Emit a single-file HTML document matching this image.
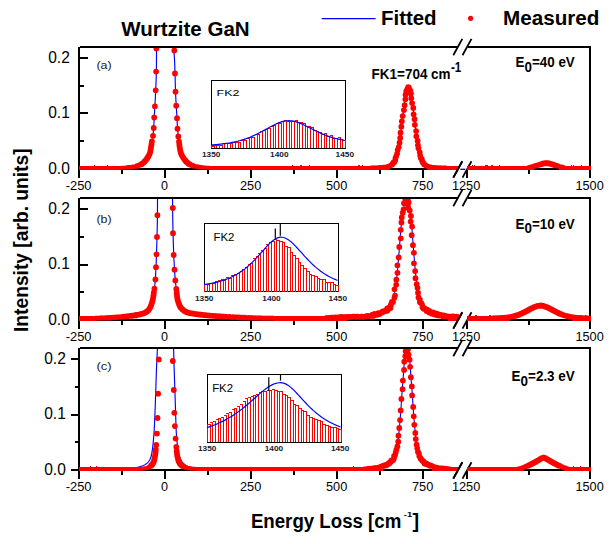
<!DOCTYPE html>
<html><head><meta charset="utf-8"><title>Wurtzite GaN HREELS</title>
<style>html,body{margin:0;padding:0;background:#fff}body{width:615px;height:544px;overflow:hidden;font-family:"Liberation Sans",sans-serif}svg{display:block}</style></head>
<body>
<svg width="615" height="544" viewBox="0 0 615 544" font-family="'Liberation Sans', sans-serif" fill="#000">
<rect x="0" y="0" width="615" height="544" fill="#fff"/>
<text x="121.3" y="35.7" font-size="20" font-weight="bold" text-anchor="start" textLength="128.3" lengthAdjust="spacingAndGlyphs">Wurtzite GaN</text>
<line x1="321.7" y1="18.7" x2="375.6" y2="18.7" stroke="#0000ff" stroke-width="1.3"/>
<text x="381" y="25.4" font-size="20" font-weight="bold" text-anchor="start" textLength="55.6" lengthAdjust="spacingAndGlyphs">Fitted</text>
<circle cx="470.6" cy="18.3" r="2.6" fill="#ff0000"/>
<text x="503" y="25.4" font-size="20" font-weight="bold" text-anchor="start" textLength="96.4" lengthAdjust="spacingAndGlyphs">Measured</text>
<g>
<clipPath id="ca"><rect x="79" y="48" width="512" height="130"/></clipPath>
<rect x="80" y="46" width="378" height="2" fill="#000"/>
<rect x="467.7" y="46" width="123.3" height="2" fill="#000"/>
<rect x="78" y="168" width="380" height="2" fill="#000"/>
<rect x="467" y="168" width="124" height="2" fill="#000"/>
<rect x="78" y="47" width="2" height="131" fill="#000"/>
<rect x="589" y="46" width="2" height="132" fill="#000"/>
<rect x="164" y="170" width="2" height="8" fill="#000"/>
<rect x="250" y="170" width="2" height="8" fill="#000"/>
<rect x="336" y="170" width="2" height="8" fill="#000"/>
<rect x="422" y="170" width="2" height="8" fill="#000"/>
<rect x="466" y="170" width="2" height="8" fill="#000"/>
<rect x="121" y="170" width="2" height="4" fill="#000"/>
<rect x="207" y="170" width="2" height="4" fill="#000"/>
<rect x="293" y="170" width="2" height="4" fill="#000"/>
<rect x="379" y="170" width="2" height="4" fill="#000"/>
<rect x="528" y="170" width="2" height="4" fill="#000"/>
<rect x="80" y="57" width="8" height="2" fill="#000"/>
<rect x="80" y="85" width="4" height="2" fill="#000"/>
<rect x="80" y="112" width="8" height="2" fill="#000"/>
<rect x="80" y="140" width="4" height="2" fill="#000"/>
<text x="69.8" y="62.9" font-size="16" font-weight="normal" text-anchor="end" textLength="21.6" lengthAdjust="spacingAndGlyphs">0.2</text>
<text x="69.8" y="118.4" font-size="16" font-weight="normal" text-anchor="end" textLength="21.6" lengthAdjust="spacingAndGlyphs">0.1</text>
<text x="69.8" y="173.9" font-size="16" font-weight="normal" text-anchor="end" textLength="21.6" lengthAdjust="spacingAndGlyphs">0.0</text>
<text x="78.6" y="189.6" font-size="13" font-weight="normal" text-anchor="middle" textLength="25.8" lengthAdjust="spacingAndGlyphs">-250</text>
<text x="164.6" y="189.6" font-size="13" font-weight="normal" text-anchor="middle" textLength="7" lengthAdjust="spacingAndGlyphs">0</text>
<text x="250.6" y="189.6" font-size="13" font-weight="normal" text-anchor="middle" textLength="21.3" lengthAdjust="spacingAndGlyphs">250</text>
<text x="336.6" y="189.6" font-size="13" font-weight="normal" text-anchor="middle" textLength="21.3" lengthAdjust="spacingAndGlyphs">500</text>
<text x="422.6" y="189.6" font-size="13" font-weight="normal" text-anchor="middle" textLength="21.3" lengthAdjust="spacingAndGlyphs">750</text>
<text x="466.1" y="189.6" font-size="13" font-weight="normal" text-anchor="middle" textLength="28.3" lengthAdjust="spacingAndGlyphs">1250</text>
<text x="589.6" y="189.6" font-size="13" font-weight="normal" text-anchor="middle" textLength="28.3" lengthAdjust="spacingAndGlyphs">1500</text>
<line x1="453.3" y1="55.3" x2="462.3" y2="38.9" stroke="#000" stroke-width="1.8"/>
<line x1="462.5" y1="55.3" x2="471.5" y2="38.9" stroke="#000" stroke-width="1.8"/>
<line x1="453.3" y1="177.6" x2="462.3" y2="161.2" stroke="#000" stroke-width="1.8"/>
<line x1="462.5" y1="177.6" x2="471.5" y2="161.2" stroke="#000" stroke-width="1.8"/>
<g clip-path="url(#ca)">
<polyline fill="none" stroke="#0000ff" stroke-width="1.15" points="156.5,30 156.5,32.6 156.5,37.8 156.5,45.6 156.5,56 156.45,64.97 156.35,72.51 156.2,78.61 156,83.29 155.8,87.79 155.6,92.13 155.4,96.3 155.2,100.3 155.01,104 154.82,107.4 154.64,110.5 154.46,113.3 154.3,116.06 154.15,118.77 154.01,121.44 153.89,124.06 153.75,126.52 153.6,128.81 153.44,130.93 153.26,132.88 153.06,134.68 152.84,136.34 152.59,137.86 152.31,139.24 152.03,140.97 151.73,143.06 151.41,145.5 151.09,148.3 150.6,150.89 149.95,153.26 149.14,155.43 148.16,157.38 147.14,159.14 146.06,160.73 144.94,162.14 143.76,163.36 142.88,164.28 142.29,164.89 142,165.2"/>
<polyline fill="none" stroke="#0000ff" stroke-width="1.15" points="173.6,30 173.6,31.06 173.6,33.19 173.6,36.38 173.6,40.62 173.66,44.62 173.79,48.38 173.97,51.88 174.22,55.12 174.44,58.4 174.61,61.7 174.75,65.03 174.85,68.38 174.96,72.03 175.07,75.99 175.19,80.26 175.31,84.84 175.45,89.14 175.6,93.18 175.76,96.95 175.94,100.45 176.12,103.86 176.31,107.17 176.5,110.39 176.7,113.51 176.88,116.51 177.04,119.39 177.19,122.14 177.31,124.76 177.46,127.22 177.62,129.51 177.8,131.62 178,133.57 178.19,135.36 178.38,136.97 178.56,138.41 178.74,139.69 178.96,141.32 179.22,143.32 179.52,145.69 179.88,148.41 180.38,150.94 181.03,153.28 181.83,155.43 182.77,157.38 183.79,159.14 184.86,160.73 186,162.14 187.2,163.36 188.1,164.28 188.7,164.89 189,165.2"/>
<polyline fill="none" stroke="#0000ff" stroke-width="1.1" points="340,167.67 340.5,167.67 341,167.67 341.5,167.67 342,167.67 342.5,167.66 343,167.66 343.5,167.66 344,167.66 344.5,167.66 345,167.65 345.5,167.65 346,167.65 346.5,167.65 347,167.64 347.5,167.64 348,167.64 348.5,167.64 349,167.63 349.5,167.63 350,167.63 350.5,167.62 351,167.62 351.5,167.62 352,167.62 352.5,167.61 353,167.61 353.5,167.61 354,167.6 354.5,167.6 355,167.59 355.5,167.59 356,167.59 356.5,167.58 357,167.58 357.5,167.57 358,167.57 358.5,167.57 359,167.56 359.5,167.56 360,167.55 360.5,167.55 361,167.54 361.5,167.54 362,167.53 362.5,167.52 363,167.52 363.5,167.51 364,167.51 364.5,167.5 365,167.49 365.5,167.48 366,167.48 366.5,167.47 367,167.46 367.5,167.45 368,167.45 368.5,167.44 369,167.43 369.5,167.42 370,167.41 370.5,167.4 371,167.39 371.5,167.38 372,167.37 372.5,167.35 373,167.34 373.5,167.33 374,167.32 374.5,167.3 375,167.29 375.5,167.27 376,167.26 376.5,167.24 377,167.22 377.5,167.21 378,167.19 378.5,167.17 379,167.15 379.5,167.13 380,167.1 380.5,167.08 381,167.05 381.5,167.03 382,167 382.5,166.97 383,166.93 383.5,166.9 384,166.86 384.5,166.82 385,166.77 385.5,166.72 386,166.66 386.5,166.6 387,166.52 387.5,166.43 388,166.33 388.5,166.21 389,166.06 389.5,165.89 390,165.69 390.5,165.45 391,165.16 391.5,164.81 392,164.39 392.5,163.9 393,163.32 393.5,162.62 394,161.81 394.5,160.87 395,159.77 395.5,158.5 396,157.04 396.5,155.39 397,153.52 397.5,151.43 398,149.1 398.5,146.54 399,143.74 399.5,140.7 400,137.44 400.5,133.98 401,130.33 401.5,126.53 402,122.61 402.5,118.62 403,114.6 403.5,110.62 404,106.73 404.5,103.01 405,99.51 405.5,96.3 406,93.47 406.5,91.06 407,89.15 407.5,87.78 408,87 408.5,86.81 409,87.24 409.5,88.26 410,89.85 410.5,91.97 411,94.55 411.5,97.54 412,100.87 412.5,104.47 413,108.27 413.5,112.21 414,116.21 414.5,120.22 415,124.19 415.5,128.07 416,131.81 416.5,135.39 417,138.77 417.5,141.94 418,144.89 418.5,147.59 419,150.06 419.5,152.29 420,154.29 420.5,156.07 421,157.65 421.5,159.03 422,160.22 422.5,161.26 423,162.15 423.5,162.91 424,163.56 424.5,164.11 425,164.57 425.5,164.96 426,165.28 426.5,165.55 427,165.78 427.5,165.97 428,166.13 428.5,166.26 429,166.37 429.5,166.47 430,166.55 430.5,166.62 431,166.69 431.5,166.74 432,166.79 432.5,166.84 433,166.88 433.5,166.91 434,166.95 434.5,166.98 435,167.01 435.5,167.04 436,167.06 436.5,167.09 437,167.11 437.5,167.13 438,167.16 438.5,167.18 439,167.2 439.5,167.21 440,167.23 440.5,167.25 441,167.26 441.5,167.28 442,167.29 442.5,167.31 443,167.32 443.5,167.34 444,167.35 444.5,167.36 445,167.37 445.5,167.38 446,167.39 446.5,167.4 447,167.41 447.5,167.42 448,167.43 448.5,167.44 449,167.45 449.5,167.46 450,167.47 450.5,167.47 451,167.48 451.5,167.49 452,167.49 452.5,167.5 453,167.51 453.5,167.51 454,167.52 454.5,167.53 455,167.53 455.5,167.54 456,167.54 456.5,167.55 457,167.55 457.5,167.56"/>
<g shape-rendering="crispEdges">
<rect x="79.3" y="166" width="40.7" height="4" fill="#ff0000"/>
<rect x="210.8" y="166" width="179.5" height="4" fill="#ff0000"/>
<rect x="426.8" y="166" width="31.4" height="4" fill="#ff0000"/>
<rect x="466.8" y="166" width="66.75" height="4" fill="#ff0000"/>
<rect x="559.3" y="166" width="31.3" height="4" fill="#ff0000"/>
</g>
<path stroke="#ff0000" stroke-width="1" shape-rendering="crispEdges" d="M94 165.5h1M571 165.5h1M300 165.5h2M362 165.5h1M491 165.5h2M499 165.5h1M573 165.5h1M358 165.5h2M485 165.5h2M309 165.5h1M472 165.5h1M107 165.5h1M581 165.5h1M487 165.5h1M292 165.5h1M474 165.5h1"/>
<path fill="#ff0000" d="M151.5 144m-2.9 0a2.9 2.9 0 1 0 5.8 0a2.9 2.9 0 1 0 -5.8 0M151.37 144.89m-2.9 0a2.9 2.9 0 1 0 5.8 0a2.9 2.9 0 1 0 -5.8 0M151.23 145.78m-2.9 0a2.9 2.9 0 1 0 5.8 0a2.9 2.9 0 1 0 -5.8 0M151.1 146.67m-2.9 0a2.9 2.9 0 1 0 5.8 0a2.9 2.9 0 1 0 -5.8 0M150.96 147.56m-2.9 0a2.9 2.9 0 1 0 5.8 0a2.9 2.9 0 1 0 -5.8 0M150.83 148.45m-2.9 0a2.9 2.9 0 1 0 5.8 0a2.9 2.9 0 1 0 -5.8 0M150.69 149.34m-2.9 0a2.9 2.9 0 1 0 5.8 0a2.9 2.9 0 1 0 -5.8 0M150.55 150.23m-2.9 0a2.9 2.9 0 1 0 5.8 0a2.9 2.9 0 1 0 -5.8 0M150.4 151.11m-2.9 0a2.9 2.9 0 1 0 5.8 0a2.9 2.9 0 1 0 -5.8 0M150.19 151.99m-2.9 0a2.9 2.9 0 1 0 5.8 0a2.9 2.9 0 1 0 -5.8 0M149.94 152.85m-2.9 0a2.9 2.9 0 1 0 5.8 0a2.9 2.9 0 1 0 -5.8 0M149.64 153.7m-2.9 0a2.9 2.9 0 1 0 5.8 0a2.9 2.9 0 1 0 -5.8 0M149.29 154.53m-2.9 0a2.9 2.9 0 1 0 5.8 0a2.9 2.9 0 1 0 -5.8 0M148.9 155.34m-2.9 0a2.9 2.9 0 1 0 5.8 0a2.9 2.9 0 1 0 -5.8 0M148.49 156.14m-2.9 0a2.9 2.9 0 1 0 5.8 0a2.9 2.9 0 1 0 -5.8 0M148.05 156.93m-2.9 0a2.9 2.9 0 1 0 5.8 0a2.9 2.9 0 1 0 -5.8 0M147.57 157.69m-2.9 0a2.9 2.9 0 1 0 5.8 0a2.9 2.9 0 1 0 -5.8 0M147.07 158.44m-2.9 0a2.9 2.9 0 1 0 5.8 0a2.9 2.9 0 1 0 -5.8 0M146.55 159.18m-2.9 0a2.9 2.9 0 1 0 5.8 0a2.9 2.9 0 1 0 -5.8 0M146.01 159.9m-2.9 0a2.9 2.9 0 1 0 5.8 0a2.9 2.9 0 1 0 -5.8 0M145.45 160.6m-2.9 0a2.9 2.9 0 1 0 5.8 0a2.9 2.9 0 1 0 -5.8 0M144.86 161.27m-2.9 0a2.9 2.9 0 1 0 5.8 0a2.9 2.9 0 1 0 -5.8 0M144.24 161.92m-2.9 0a2.9 2.9 0 1 0 5.8 0a2.9 2.9 0 1 0 -5.8 0M143.58 162.54m-2.9 0a2.9 2.9 0 1 0 5.8 0a2.9 2.9 0 1 0 -5.8 0M142.88 163.11m-2.9 0a2.9 2.9 0 1 0 5.8 0a2.9 2.9 0 1 0 -5.8 0M142.15 163.64m-2.9 0a2.9 2.9 0 1 0 5.8 0a2.9 2.9 0 1 0 -5.8 0M141.4 164.13m-2.9 0a2.9 2.9 0 1 0 5.8 0a2.9 2.9 0 1 0 -5.8 0M140.61 164.56m-2.9 0a2.9 2.9 0 1 0 5.8 0a2.9 2.9 0 1 0 -5.8 0M139.8 164.95m-2.79 0a2.79 2.79 0 1 0 5.59 0a2.79 2.79 0 1 0 -5.59 0M138.97 165.31m-2.69 0a2.69 2.69 0 1 0 5.38 0a2.69 2.69 0 1 0 -5.38 0M138.13 165.62m-2.59 0a2.59 2.59 0 1 0 5.19 0a2.59 2.59 0 1 0 -5.19 0M137.28 165.91m-2.51 0a2.51 2.51 0 1 0 5.02 0a2.51 2.51 0 1 0 -5.02 0M136.41 166.14m-2.44 0a2.44 2.44 0 1 0 4.87 0a2.44 2.44 0 1 0 -4.87 0M135.53 166.35m-2.37 0a2.37 2.37 0 1 0 4.75 0a2.37 2.37 0 1 0 -4.75 0M134.65 166.54m-2.32 0a2.32 2.32 0 1 0 4.64 0a2.32 2.32 0 1 0 -4.64 0M133.77 166.69m-2.27 0a2.27 2.27 0 1 0 4.55 0a2.27 2.27 0 1 0 -4.55 0M132.88 166.84m-2.23 0a2.23 2.23 0 1 0 4.46 0a2.23 2.23 0 1 0 -4.46 0M131.99 166.95m-2.19 0a2.19 2.19 0 1 0 4.39 0a2.19 2.19 0 1 0 -4.39 0M131.09 167.07m-2.16 0a2.16 2.16 0 1 0 4.32 0a2.16 2.16 0 1 0 -4.32 0M130.2 167.16m-2.13 0a2.13 2.13 0 1 0 4.26 0a2.13 2.13 0 1 0 -4.26 0M129.3 167.26m-2.1 0a2.1 2.1 0 1 0 4.2 0a2.1 2.1 0 1 0 -4.2 0M128.41 167.34m-2.08 0a2.08 2.08 0 1 0 4.15 0a2.08 2.08 0 1 0 -4.15 0M127.51 167.42m-2.05 0a2.05 2.05 0 1 0 4.11 0a2.05 2.05 0 1 0 -4.11 0M126.61 167.5m-2.03 0a2.03 2.03 0 1 0 4.06 0a2.03 2.03 0 1 0 -4.06 0M125.72 167.57m-2.01 0a2.01 2.01 0 1 0 4.02 0a2.01 2.01 0 1 0 -4.02 0M124.82 167.63m-2 0a2 2 0 1 0 4 0a2 2 0 1 0 -4 0M123.92 167.69m-2 0a2 2 0 1 0 4 0a2 2 0 1 0 -4 0M123.02 167.75m-2 0a2 2 0 1 0 4 0a2 2 0 1 0 -4 0M122.12 167.8m-2 0a2 2 0 1 0 4 0a2 2 0 1 0 -4 0M121.23 167.86m-2 0a2 2 0 1 0 4 0a2 2 0 1 0 -4 0M120.33 167.92m-2 0a2 2 0 1 0 4 0a2 2 0 1 0 -4 0M119.43 167.97m-2 0a2 2 0 1 0 4 0a2 2 0 1 0 -4 0"/>
<path fill="#ff0000" d="M179.3 144.5m-2.9 0a2.9 2.9 0 1 0 5.8 0a2.9 2.9 0 1 0 -5.8 0M179.43 145.39m-2.9 0a2.9 2.9 0 1 0 5.8 0a2.9 2.9 0 1 0 -5.8 0M179.57 146.28m-2.9 0a2.9 2.9 0 1 0 5.8 0a2.9 2.9 0 1 0 -5.8 0M179.7 147.17m-2.9 0a2.9 2.9 0 1 0 5.8 0a2.9 2.9 0 1 0 -5.8 0M179.84 148.06m-2.9 0a2.9 2.9 0 1 0 5.8 0a2.9 2.9 0 1 0 -5.8 0M179.99 148.95m-2.9 0a2.9 2.9 0 1 0 5.8 0a2.9 2.9 0 1 0 -5.8 0M180.13 149.83m-2.9 0a2.9 2.9 0 1 0 5.8 0a2.9 2.9 0 1 0 -5.8 0M180.29 150.72m-2.9 0a2.9 2.9 0 1 0 5.8 0a2.9 2.9 0 1 0 -5.8 0M180.48 151.6m-2.9 0a2.9 2.9 0 1 0 5.8 0a2.9 2.9 0 1 0 -5.8 0M180.73 152.47m-2.9 0a2.9 2.9 0 1 0 5.8 0a2.9 2.9 0 1 0 -5.8 0M181.02 153.32m-2.9 0a2.9 2.9 0 1 0 5.8 0a2.9 2.9 0 1 0 -5.8 0M181.34 154.16m-2.9 0a2.9 2.9 0 1 0 5.8 0a2.9 2.9 0 1 0 -5.8 0M181.71 154.98m-2.9 0a2.9 2.9 0 1 0 5.8 0a2.9 2.9 0 1 0 -5.8 0M182.12 155.78m-2.9 0a2.9 2.9 0 1 0 5.8 0a2.9 2.9 0 1 0 -5.8 0M182.55 156.57m-2.9 0a2.9 2.9 0 1 0 5.8 0a2.9 2.9 0 1 0 -5.8 0M183.01 157.34m-2.9 0a2.9 2.9 0 1 0 5.8 0a2.9 2.9 0 1 0 -5.8 0M183.5 158.1m-2.9 0a2.9 2.9 0 1 0 5.8 0a2.9 2.9 0 1 0 -5.8 0M184 158.84m-2.9 0a2.9 2.9 0 1 0 5.8 0a2.9 2.9 0 1 0 -5.8 0M184.54 159.57m-2.9 0a2.9 2.9 0 1 0 5.8 0a2.9 2.9 0 1 0 -5.8 0M185.09 160.28m-2.9 0a2.9 2.9 0 1 0 5.8 0a2.9 2.9 0 1 0 -5.8 0M185.67 160.97m-2.9 0a2.9 2.9 0 1 0 5.8 0a2.9 2.9 0 1 0 -5.8 0M186.28 161.63m-2.9 0a2.9 2.9 0 1 0 5.8 0a2.9 2.9 0 1 0 -5.8 0M186.92 162.26m-2.9 0a2.9 2.9 0 1 0 5.8 0a2.9 2.9 0 1 0 -5.8 0M187.6 162.85m-2.9 0a2.9 2.9 0 1 0 5.8 0a2.9 2.9 0 1 0 -5.8 0M188.31 163.4m-2.9 0a2.9 2.9 0 1 0 5.8 0a2.9 2.9 0 1 0 -5.8 0M189.05 163.91m-2.9 0a2.9 2.9 0 1 0 5.8 0a2.9 2.9 0 1 0 -5.8 0M189.83 164.37m-2.9 0a2.9 2.9 0 1 0 5.8 0a2.9 2.9 0 1 0 -5.8 0M190.62 164.78m-2.84 0a2.84 2.84 0 1 0 5.69 0a2.84 2.84 0 1 0 -5.69 0M191.44 165.16m-2.73 0a2.73 2.73 0 1 0 5.47 0a2.73 2.73 0 1 0 -5.47 0M192.28 165.48m-2.64 0a2.64 2.64 0 1 0 5.27 0a2.64 2.64 0 1 0 -5.27 0M193.13 165.78m-2.55 0a2.55 2.55 0 1 0 5.09 0a2.55 2.55 0 1 0 -5.09 0M193.99 166.04m-2.47 0a2.47 2.47 0 1 0 4.94 0a2.47 2.47 0 1 0 -4.94 0M194.86 166.27m-2.4 0a2.4 2.4 0 1 0 4.8 0a2.4 2.4 0 1 0 -4.8 0M195.74 166.45m-2.34 0a2.34 2.34 0 1 0 4.69 0a2.34 2.34 0 1 0 -4.69 0M196.63 166.62m-2.29 0a2.29 2.29 0 1 0 4.59 0a2.29 2.29 0 1 0 -4.59 0M197.52 166.77m-2.25 0a2.25 2.25 0 1 0 4.5 0a2.25 2.25 0 1 0 -4.5 0M198.41 166.9m-2.21 0a2.21 2.21 0 1 0 4.42 0a2.21 2.21 0 1 0 -4.42 0M199.3 167.01m-2.18 0a2.18 2.18 0 1 0 4.35 0a2.18 2.18 0 1 0 -4.35 0M200.19 167.12m-2.14 0a2.14 2.14 0 1 0 4.29 0a2.14 2.14 0 1 0 -4.29 0M201.09 167.22m-2.12 0a2.12 2.12 0 1 0 4.23 0a2.12 2.12 0 1 0 -4.23 0M201.98 167.31m-2.09 0a2.09 2.09 0 1 0 4.18 0a2.09 2.09 0 1 0 -4.18 0M202.88 167.39m-2.06 0a2.06 2.06 0 1 0 4.13 0a2.06 2.06 0 1 0 -4.13 0M203.78 167.47m-2.04 0a2.04 2.04 0 1 0 4.08 0a2.04 2.04 0 1 0 -4.08 0M204.67 167.53m-2.02 0a2.02 2.02 0 1 0 4.04 0a2.02 2.02 0 1 0 -4.04 0M205.57 167.6m-2 0a2 2 0 1 0 4 0a2 2 0 1 0 -4 0M206.47 167.66m-2 0a2 2 0 1 0 4 0a2 2 0 1 0 -4 0M207.37 167.72m-2 0a2 2 0 1 0 4 0a2 2 0 1 0 -4 0M208.27 167.78m-2 0a2 2 0 1 0 4 0a2 2 0 1 0 -4 0M209.16 167.83m-2 0a2 2 0 1 0 4 0a2 2 0 1 0 -4 0M210.06 167.89m-2 0a2 2 0 1 0 4 0a2 2 0 1 0 -4 0M210.96 167.95m-2 0a2 2 0 1 0 4 0a2 2 0 1 0 -4 0"/>
<path fill="#ff0000" d="M156.4 48.4m-2.9 0a2.9 2.9 0 1 0 5.8 0a2.9 2.9 0 1 0 -5.8 0M156.1 71.6m-2.9 0a2.9 2.9 0 1 0 5.8 0a2.9 2.9 0 1 0 -5.8 0M155.7 90.3m-2.9 0a2.9 2.9 0 1 0 5.8 0a2.9 2.9 0 1 0 -5.8 0M154.9 106.3m-2.9 0a2.9 2.9 0 1 0 5.8 0a2.9 2.9 0 1 0 -5.8 0M154.2 117.5m-2.9 0a2.9 2.9 0 1 0 5.8 0a2.9 2.9 0 1 0 -5.8 0M153.7 128m-2.9 0a2.9 2.9 0 1 0 5.8 0a2.9 2.9 0 1 0 -5.8 0M153 135.8m-2.9 0a2.9 2.9 0 1 0 5.8 0a2.9 2.9 0 1 0 -5.8 0M151.9 141.3m-2.9 0a2.9 2.9 0 1 0 5.8 0a2.9 2.9 0 1 0 -5.8 0M174.3 50.5m-2.9 0a2.9 2.9 0 1 0 5.8 0a2.9 2.9 0 1 0 -5.8 0M175 73.4m-2.9 0a2.9 2.9 0 1 0 5.8 0a2.9 2.9 0 1 0 -5.8 0M175.5 91.7m-2.9 0a2.9 2.9 0 1 0 5.8 0a2.9 2.9 0 1 0 -5.8 0M176.2 105.7m-2.9 0a2.9 2.9 0 1 0 5.8 0a2.9 2.9 0 1 0 -5.8 0M177 118.2m-2.9 0a2.9 2.9 0 1 0 5.8 0a2.9 2.9 0 1 0 -5.8 0M177.5 128.7m-2.9 0a2.9 2.9 0 1 0 5.8 0a2.9 2.9 0 1 0 -5.8 0M178.3 136.5m-2.9 0a2.9 2.9 0 1 0 5.8 0a2.9 2.9 0 1 0 -5.8 0M179 141.6m-2.9 0a2.9 2.9 0 1 0 5.8 0a2.9 2.9 0 1 0 -5.8 0"/>
<path fill="#ff0000" d="M370.48 167.63m-2 0a2 2 0 1 0 4 0a2 2 0 1 0 -4 0M371.18 167.58m-2 0a2 2 0 1 0 4.01 0a2 2 0 1 0 -4.01 0M371.9 167.6m-2.01 0a2.01 2.01 0 1 0 4.02 0a2.01 2.01 0 1 0 -4.02 0M372.65 167.52m-2.01 0a2.01 2.01 0 1 0 4.03 0a2.01 2.01 0 1 0 -4.03 0M373.33 167.51m-2.02 0a2.02 2.02 0 1 0 4.04 0a2.02 2.02 0 1 0 -4.04 0M374.05 167.51m-2.03 0a2.03 2.03 0 1 0 4.05 0a2.03 2.03 0 1 0 -4.05 0M374.8 167.47m-2.03 0a2.03 2.03 0 1 0 4.06 0a2.03 2.03 0 1 0 -4.06 0M375.48 167.46m-2.04 0a2.04 2.04 0 1 0 4.08 0a2.04 2.04 0 1 0 -4.08 0M376.22 167.46m-2.04 0a2.04 2.04 0 1 0 4.09 0a2.04 2.04 0 1 0 -4.09 0M376.98 167.45m-2.05 0a2.05 2.05 0 1 0 4.1 0a2.05 2.05 0 1 0 -4.1 0M377.67 167.41m-2.06 0a2.06 2.06 0 1 0 4.12 0a2.06 2.06 0 1 0 -4.12 0M378.4 167.32m-2.07 0a2.07 2.07 0 1 0 4.14 0a2.07 2.07 0 1 0 -4.14 0M379.14 167.38m-2.08 0a2.08 2.08 0 1 0 4.15 0a2.08 2.08 0 1 0 -4.15 0M379.86 167.35m-2.09 0a2.09 2.09 0 1 0 4.17 0a2.09 2.09 0 1 0 -4.17 0M380.54 167.26m-2.1 0a2.1 2.1 0 1 0 4.19 0a2.1 2.1 0 1 0 -4.19 0M381.23 167.26m-2.11 0a2.11 2.11 0 1 0 4.22 0a2.11 2.11 0 1 0 -4.22 0M381.95 167.13m-2.12 0a2.12 2.12 0 1 0 4.24 0a2.12 2.12 0 1 0 -4.24 0M382.68 167.1m-2.13 0a2.13 2.13 0 1 0 4.27 0a2.13 2.13 0 1 0 -4.27 0M383.41 167.02m-2.15 0a2.15 2.15 0 1 0 4.3 0a2.15 2.15 0 1 0 -4.3 0M384.09 166.98m-2.17 0a2.17 2.17 0 1 0 4.33 0a2.17 2.17 0 1 0 -4.33 0M384.82 166.96m-2.18 0a2.18 2.18 0 1 0 4.37 0a2.18 2.18 0 1 0 -4.37 0M385.53 166.99m-2.21 0a2.21 2.21 0 1 0 4.41 0a2.21 2.21 0 1 0 -4.41 0M386.33 166.74m-2.23 0a2.23 2.23 0 1 0 4.47 0a2.23 2.23 0 1 0 -4.47 0M386.99 166.68m-2.27 0a2.27 2.27 0 1 0 4.53 0a2.27 2.27 0 1 0 -4.53 0M387.73 166.48m-2.31 0a2.31 2.31 0 1 0 4.61 0a2.31 2.31 0 1 0 -4.61 0M388.53 166.57m-2.36 0a2.36 2.36 0 1 0 4.71 0a2.36 2.36 0 1 0 -4.71 0M389.18 166.2m-2.42 0a2.42 2.42 0 1 0 4.84 0a2.42 2.42 0 1 0 -4.84 0M389.81 165.77m-2.5 0a2.5 2.5 0 1 0 5 0a2.5 2.5 0 1 0 -5 0M390.59 165.46m-2.61 0a2.61 2.61 0 1 0 5.21 0a2.61 2.61 0 1 0 -5.21 0M391.46 164.93m-2.74 0a2.74 2.74 0 1 0 5.49 0a2.74 2.74 0 1 0 -5.49 0M391.88 164.84m-2.9 0a2.9 2.9 0 1 0 5.8 0a2.9 2.9 0 1 0 -5.8 0M392.8 163.47m-2.9 0a2.9 2.9 0 1 0 5.8 0a2.9 2.9 0 1 0 -5.8 0M393.54 162.32m-2.9 0a2.9 2.9 0 1 0 5.8 0a2.9 2.9 0 1 0 -5.8 0M394.25 162.17m-2.9 0a2.9 2.9 0 1 0 5.8 0a2.9 2.9 0 1 0 -5.8 0M395.2 160.32m-2.9 0a2.9 2.9 0 1 0 5.8 0a2.9 2.9 0 1 0 -5.8 0M395.5 158.06m-2.9 0a2.9 2.9 0 1 0 5.8 0a2.9 2.9 0 1 0 -5.8 0M396.16 156.3m-2.9 0a2.9 2.9 0 1 0 5.8 0a2.9 2.9 0 1 0 -5.8 0M397.13 153.62m-2.9 0a2.9 2.9 0 1 0 5.8 0a2.9 2.9 0 1 0 -5.8 0M397.71 149.79m-2.9 0a2.9 2.9 0 1 0 5.8 0a2.9 2.9 0 1 0 -5.8 0M398.77 147.05m-2.9 0a2.9 2.9 0 1 0 5.8 0a2.9 2.9 0 1 0 -5.8 0M399.52 142.7m-2.9 0a2.9 2.9 0 1 0 5.8 0a2.9 2.9 0 1 0 -5.8 0M400.21 138m-2.9 0a2.9 2.9 0 1 0 5.8 0a2.9 2.9 0 1 0 -5.8 0M400.52 132.69m-2.9 0a2.9 2.9 0 1 0 5.8 0a2.9 2.9 0 1 0 -5.8 0M401.33 126.7m-2.9 0a2.9 2.9 0 1 0 5.8 0a2.9 2.9 0 1 0 -5.8 0M401.82 121.35m-2.9 0a2.9 2.9 0 1 0 5.8 0a2.9 2.9 0 1 0 -5.8 0M402.7 116.08m-2.9 0a2.9 2.9 0 1 0 5.8 0a2.9 2.9 0 1 0 -5.8 0M403.91 110.05m-2.9 0a2.9 2.9 0 1 0 5.8 0a2.9 2.9 0 1 0 -5.8 0M404.62 105.19m-2.9 0a2.9 2.9 0 1 0 5.8 0a2.9 2.9 0 1 0 -5.8 0M405.35 99.34m-2.9 0a2.9 2.9 0 1 0 5.8 0a2.9 2.9 0 1 0 -5.8 0M405.55 94.71m-2.9 0a2.9 2.9 0 1 0 5.8 0a2.9 2.9 0 1 0 -5.8 0M406.26 91.04m-2.9 0a2.9 2.9 0 1 0 5.8 0a2.9 2.9 0 1 0 -5.8 0M407.28 89.24m-2.9 0a2.9 2.9 0 1 0 5.8 0a2.9 2.9 0 1 0 -5.8 0M408.15 87.27m-2.9 0a2.9 2.9 0 1 0 5.8 0a2.9 2.9 0 1 0 -5.8 0M408.74 87.42m-2.9 0a2.9 2.9 0 1 0 5.8 0a2.9 2.9 0 1 0 -5.8 0M409.06 88.29m-2.9 0a2.9 2.9 0 1 0 5.8 0a2.9 2.9 0 1 0 -5.8 0M410.36 90.66m-2.9 0a2.9 2.9 0 1 0 5.8 0a2.9 2.9 0 1 0 -5.8 0M410.97 93.59m-2.9 0a2.9 2.9 0 1 0 5.8 0a2.9 2.9 0 1 0 -5.8 0M411.28 98.15m-2.9 0a2.9 2.9 0 1 0 5.8 0a2.9 2.9 0 1 0 -5.8 0M412.11 103.06m-2.9 0a2.9 2.9 0 1 0 5.8 0a2.9 2.9 0 1 0 -5.8 0M413.28 107.96m-2.9 0a2.9 2.9 0 1 0 5.8 0a2.9 2.9 0 1 0 -5.8 0M413.6 114.3m-2.9 0a2.9 2.9 0 1 0 5.8 0a2.9 2.9 0 1 0 -5.8 0M414.55 119.14m-2.9 0a2.9 2.9 0 1 0 5.8 0a2.9 2.9 0 1 0 -5.8 0M414.85 124.83m-2.9 0a2.9 2.9 0 1 0 5.8 0a2.9 2.9 0 1 0 -5.8 0M416.11 131.12m-2.9 0a2.9 2.9 0 1 0 5.8 0a2.9 2.9 0 1 0 -5.8 0M416.3 136.33m-2.9 0a2.9 2.9 0 1 0 5.8 0a2.9 2.9 0 1 0 -5.8 0M417.61 140.9m-2.9 0a2.9 2.9 0 1 0 5.8 0a2.9 2.9 0 1 0 -5.8 0M417.89 145.09m-2.9 0a2.9 2.9 0 1 0 5.8 0a2.9 2.9 0 1 0 -5.8 0M418.45 148.28m-2.9 0a2.9 2.9 0 1 0 5.8 0a2.9 2.9 0 1 0 -5.8 0M419.76 152.37m-2.9 0a2.9 2.9 0 1 0 5.8 0a2.9 2.9 0 1 0 -5.8 0M420.17 155.57m-2.9 0a2.9 2.9 0 1 0 5.8 0a2.9 2.9 0 1 0 -5.8 0M420.82 157.9m-2.9 0a2.9 2.9 0 1 0 5.8 0a2.9 2.9 0 1 0 -5.8 0M421.82 159.11m-2.9 0a2.9 2.9 0 1 0 5.8 0a2.9 2.9 0 1 0 -5.8 0M422.14 160.84m-2.9 0a2.9 2.9 0 1 0 5.8 0a2.9 2.9 0 1 0 -5.8 0M422.86 162.5m-2.9 0a2.9 2.9 0 1 0 5.8 0a2.9 2.9 0 1 0 -5.8 0M423.62 163.38m-2.9 0a2.9 2.9 0 1 0 5.8 0a2.9 2.9 0 1 0 -5.8 0M424.31 164.58m-2.9 0a2.9 2.9 0 1 0 5.8 0a2.9 2.9 0 1 0 -5.8 0M425.14 164.9m-2.8 0a2.8 2.8 0 1 0 5.61 0a2.8 2.8 0 1 0 -5.61 0M425.94 165.63m-2.65 0a2.65 2.65 0 1 0 5.3 0a2.65 2.65 0 1 0 -5.3 0M426.61 166m-2.54 0a2.54 2.54 0 1 0 5.07 0a2.54 2.54 0 1 0 -5.07 0M427.35 166.12m-2.45 0a2.45 2.45 0 1 0 4.89 0a2.45 2.45 0 1 0 -4.89 0M428.07 166.19m-2.38 0a2.38 2.38 0 1 0 4.75 0a2.38 2.38 0 1 0 -4.75 0M428.78 166.43m-2.32 0a2.32 2.32 0 1 0 4.64 0a2.32 2.32 0 1 0 -4.64 0M429.43 166.75m-2.28 0a2.28 2.28 0 1 0 4.56 0a2.28 2.28 0 1 0 -4.56 0M430.18 166.78m-2.24 0a2.24 2.24 0 1 0 4.49 0a2.24 2.24 0 1 0 -4.49 0M430.98 166.89m-2.22 0a2.22 2.22 0 1 0 4.43 0a2.22 2.22 0 1 0 -4.43 0M431.65 166.96m-2.19 0a2.19 2.19 0 1 0 4.38 0a2.19 2.19 0 1 0 -4.38 0M432.4 167.08m-2.17 0a2.17 2.17 0 1 0 4.34 0a2.17 2.17 0 1 0 -4.34 0M433.07 167.1m-2.15 0a2.15 2.15 0 1 0 4.31 0a2.15 2.15 0 1 0 -4.31 0M433.8 167.1m-2.14 0a2.14 2.14 0 1 0 4.28 0a2.14 2.14 0 1 0 -4.28 0M434.58 167.18m-2.13 0a2.13 2.13 0 1 0 4.25 0a2.13 2.13 0 1 0 -4.25 0M435.28 167.27m-2.11 0a2.11 2.11 0 1 0 4.22 0a2.11 2.11 0 1 0 -4.22 0M436.03 167.26m-2.1 0a2.1 2.1 0 1 0 4.2 0a2.1 2.1 0 1 0 -4.2 0M436.72 167.3m-2.09 0a2.09 2.09 0 1 0 4.18 0a2.09 2.09 0 1 0 -4.18 0M437.43 167.36m-2.08 0a2.08 2.08 0 1 0 4.16 0a2.08 2.08 0 1 0 -4.16 0M438.15 167.37m-2.07 0a2.07 2.07 0 1 0 4.14 0a2.07 2.07 0 1 0 -4.14 0M438.87 167.44m-2.06 0a2.06 2.06 0 1 0 4.13 0a2.06 2.06 0 1 0 -4.13 0M439.6 167.46m-2.05 0a2.05 2.05 0 1 0 4.11 0a2.05 2.05 0 1 0 -4.11 0M440.34 167.42m-2.05 0a2.05 2.05 0 1 0 4.09 0a2.05 2.05 0 1 0 -4.09 0M441.03 167.51m-2.04 0a2.04 2.04 0 1 0 4.08 0a2.04 2.04 0 1 0 -4.08 0M441.77 167.45m-2.03 0a2.03 2.03 0 1 0 4.07 0a2.03 2.03 0 1 0 -4.07 0M442.45 167.5m-2.03 0a2.03 2.03 0 1 0 4.06 0a2.03 2.03 0 1 0 -4.06 0M443.17 167.5m-2.02 0a2.02 2.02 0 1 0 4.04 0a2.02 2.02 0 1 0 -4.04 0M443.89 167.56m-2.02 0a2.02 2.02 0 1 0 4.03 0a2.02 2.02 0 1 0 -4.03 0M444.64 167.6m-2.01 0a2.01 2.01 0 1 0 4.02 0a2.01 2.01 0 1 0 -4.02 0M445.33 167.6m-2.01 0a2.01 2.01 0 1 0 4.01 0a2.01 2.01 0 1 0 -4.01 0M446.08 167.57m-2 0a2 2 0 1 0 4 0a2 2 0 1 0 -4 0"/>
<path fill="#ff0000" d="M527.48 167.52m-2.02 0a2.02 2.02 0 1 0 4.05 0a2.02 2.02 0 1 0 -4.05 0M528.2 167.41m-2.06 0a2.06 2.06 0 1 0 4.11 0a2.06 2.06 0 1 0 -4.11 0M528.92 167.28m-2.1 0a2.1 2.1 0 1 0 4.19 0a2.1 2.1 0 1 0 -4.19 0M529.64 167.13m-2.14 0a2.14 2.14 0 1 0 4.28 0a2.14 2.14 0 1 0 -4.28 0M530.36 166.99m-2.18 0a2.18 2.18 0 1 0 4.37 0a2.18 2.18 0 1 0 -4.37 0M531.08 166.84m-2.23 0a2.23 2.23 0 1 0 4.45 0a2.23 2.23 0 1 0 -4.45 0M531.8 166.7m-2.27 0a2.27 2.27 0 1 0 4.54 0a2.27 2.27 0 1 0 -4.54 0M532.52 166.54m-2.32 0a2.32 2.32 0 1 0 4.63 0a2.32 2.32 0 1 0 -4.63 0M533.24 166.36m-2.37 0a2.37 2.37 0 1 0 4.75 0a2.37 2.37 0 1 0 -4.75 0M533.96 166.17m-2.43 0a2.43 2.43 0 1 0 4.86 0a2.43 2.43 0 1 0 -4.86 0M534.68 165.98m-2.49 0a2.49 2.49 0 1 0 4.97 0a2.49 2.49 0 1 0 -4.97 0M535.4 165.79m-2.54 0a2.54 2.54 0 1 0 5.08 0a2.54 2.54 0 1 0 -5.08 0M536.12 165.61m-2.6 0a2.6 2.6 0 1 0 5.2 0a2.6 2.6 0 1 0 -5.2 0M536.84 165.42m-2.65 0a2.65 2.65 0 1 0 5.31 0a2.65 2.65 0 1 0 -5.31 0M537.56 165.22m-2.71 0a2.71 2.71 0 1 0 5.43 0a2.71 2.71 0 1 0 -5.43 0M538.28 165.01m-2.78 0a2.78 2.78 0 1 0 5.56 0a2.78 2.78 0 1 0 -5.56 0M539 164.79m-2.84 0a2.84 2.84 0 1 0 5.69 0a2.84 2.84 0 1 0 -5.69 0M539.72 164.57m-2.9 0a2.9 2.9 0 1 0 5.8 0a2.9 2.9 0 1 0 -5.8 0M540.44 164.36m-2.9 0a2.9 2.9 0 1 0 5.8 0a2.9 2.9 0 1 0 -5.8 0M541.16 164.16m-2.9 0a2.9 2.9 0 1 0 5.8 0a2.9 2.9 0 1 0 -5.8 0M541.88 163.95m-2.9 0a2.9 2.9 0 1 0 5.8 0a2.9 2.9 0 1 0 -5.8 0M542.6 163.75m-2.9 0a2.9 2.9 0 1 0 5.8 0a2.9 2.9 0 1 0 -5.8 0M543.32 163.55m-2.9 0a2.9 2.9 0 1 0 5.8 0a2.9 2.9 0 1 0 -5.8 0M544.04 163.46m-2.9 0a2.9 2.9 0 1 0 5.8 0a2.9 2.9 0 1 0 -5.8 0M544.76 163.38m-2.9 0a2.9 2.9 0 1 0 5.8 0a2.9 2.9 0 1 0 -5.8 0M545.48 163.3m-2.9 0a2.9 2.9 0 1 0 5.8 0a2.9 2.9 0 1 0 -5.8 0M546.2 163.21m-2.9 0a2.9 2.9 0 1 0 5.8 0a2.9 2.9 0 1 0 -5.8 0M546.92 163.27m-2.9 0a2.9 2.9 0 1 0 5.8 0a2.9 2.9 0 1 0 -5.8 0M547.64 163.36m-2.9 0a2.9 2.9 0 1 0 5.8 0a2.9 2.9 0 1 0 -5.8 0M548.36 163.44m-2.9 0a2.9 2.9 0 1 0 5.8 0a2.9 2.9 0 1 0 -5.8 0M549.08 163.52m-2.9 0a2.9 2.9 0 1 0 5.8 0a2.9 2.9 0 1 0 -5.8 0M549.8 163.69m-2.9 0a2.9 2.9 0 1 0 5.8 0a2.9 2.9 0 1 0 -5.8 0M550.52 163.9m-2.9 0a2.9 2.9 0 1 0 5.8 0a2.9 2.9 0 1 0 -5.8 0M551.24 164.1m-2.9 0a2.9 2.9 0 1 0 5.8 0a2.9 2.9 0 1 0 -5.8 0M551.96 164.3m-2.9 0a2.9 2.9 0 1 0 5.8 0a2.9 2.9 0 1 0 -5.8 0M552.68 164.51m-2.9 0a2.9 2.9 0 1 0 5.8 0a2.9 2.9 0 1 0 -5.8 0M553.4 164.73m-2.86 0a2.86 2.86 0 1 0 5.72 0a2.86 2.86 0 1 0 -5.72 0M554.12 164.95m-2.8 0a2.8 2.8 0 1 0 5.59 0a2.8 2.8 0 1 0 -5.59 0M554.84 165.16m-2.73 0a2.73 2.73 0 1 0 5.46 0a2.73 2.73 0 1 0 -5.46 0M555.56 165.37m-2.67 0a2.67 2.67 0 1 0 5.34 0a2.67 2.67 0 1 0 -5.34 0M556.28 165.55m-2.61 0a2.61 2.61 0 1 0 5.23 0a2.61 2.61 0 1 0 -5.23 0M557 165.74m-2.56 0a2.56 2.56 0 1 0 5.11 0a2.56 2.56 0 1 0 -5.11 0M557.72 165.93m-2.5 0a2.5 2.5 0 1 0 5 0a2.5 2.5 0 1 0 -5 0M558.44 166.12m-2.45 0a2.45 2.45 0 1 0 4.89 0a2.45 2.45 0 1 0 -4.89 0M559.16 166.3m-2.39 0a2.39 2.39 0 1 0 4.78 0a2.39 2.39 0 1 0 -4.78 0M559.88 166.49m-2.33 0a2.33 2.33 0 1 0 4.67 0a2.33 2.33 0 1 0 -4.67 0M560.6 166.66m-2.28 0a2.28 2.28 0 1 0 4.56 0a2.28 2.28 0 1 0 -4.56 0M561.32 166.8m-2.24 0a2.24 2.24 0 1 0 4.48 0a2.24 2.24 0 1 0 -4.48 0M562.04 166.95m-2.2 0a2.2 2.2 0 1 0 4.39 0a2.2 2.2 0 1 0 -4.39 0M562.76 167.09m-2.15 0a2.15 2.15 0 1 0 4.3 0a2.15 2.15 0 1 0 -4.3 0M563.48 167.24m-2.11 0a2.11 2.11 0 1 0 4.22 0a2.11 2.11 0 1 0 -4.22 0M564.2 167.38m-2.07 0a2.07 2.07 0 1 0 4.13 0a2.07 2.07 0 1 0 -4.13 0M564.92 167.49m-2.03 0a2.03 2.03 0 1 0 4.06 0a2.03 2.03 0 1 0 -4.06 0"/>
</g>
<line x1="453.3" y1="177.6" x2="462.3" y2="161.2" stroke="#000" stroke-width="1.8"/>
<line x1="460.3" y1="169.3" x2="465.2" y2="169.3" stroke="#0000ff" stroke-width="1.3"/>
<text x="96.4" y="69" font-size="10.5" font-weight="normal" text-anchor="start" textLength="15.2" lengthAdjust="spacingAndGlyphs" fill="#222">(a)</text>
</g>
<g>
<clipPath id="cb"><rect x="79" y="199" width="512" height="130"/></clipPath>
<rect x="80" y="197" width="378" height="2" fill="#000"/>
<rect x="467.7" y="197" width="123.3" height="2" fill="#000"/>
<rect x="78" y="319" width="380" height="2" fill="#000"/>
<rect x="467" y="319" width="124" height="2" fill="#000"/>
<rect x="78" y="198" width="2" height="131" fill="#000"/>
<rect x="589" y="197" width="2" height="132" fill="#000"/>
<rect x="164" y="321" width="2" height="8" fill="#000"/>
<rect x="250" y="321" width="2" height="8" fill="#000"/>
<rect x="336" y="321" width="2" height="8" fill="#000"/>
<rect x="422" y="321" width="2" height="8" fill="#000"/>
<rect x="466" y="321" width="2" height="8" fill="#000"/>
<rect x="121" y="321" width="2" height="4" fill="#000"/>
<rect x="207" y="321" width="2" height="4" fill="#000"/>
<rect x="293" y="321" width="2" height="4" fill="#000"/>
<rect x="379" y="321" width="2" height="4" fill="#000"/>
<rect x="528" y="321" width="2" height="4" fill="#000"/>
<rect x="80" y="208" width="8" height="2" fill="#000"/>
<rect x="80" y="236" width="4" height="2" fill="#000"/>
<rect x="80" y="264" width="8" height="2" fill="#000"/>
<rect x="80" y="291" width="4" height="2" fill="#000"/>
<text x="69.8" y="213.9" font-size="16" font-weight="normal" text-anchor="end" textLength="21.6" lengthAdjust="spacingAndGlyphs">0.2</text>
<text x="69.8" y="269.4" font-size="16" font-weight="normal" text-anchor="end" textLength="21.6" lengthAdjust="spacingAndGlyphs">0.1</text>
<text x="69.8" y="324.9" font-size="16" font-weight="normal" text-anchor="end" textLength="21.6" lengthAdjust="spacingAndGlyphs">0.0</text>
<text x="78.6" y="340.6" font-size="13" font-weight="normal" text-anchor="middle" textLength="25.8" lengthAdjust="spacingAndGlyphs">-250</text>
<text x="164.6" y="340.6" font-size="13" font-weight="normal" text-anchor="middle" textLength="7" lengthAdjust="spacingAndGlyphs">0</text>
<text x="250.6" y="340.6" font-size="13" font-weight="normal" text-anchor="middle" textLength="21.3" lengthAdjust="spacingAndGlyphs">250</text>
<text x="336.6" y="340.6" font-size="13" font-weight="normal" text-anchor="middle" textLength="21.3" lengthAdjust="spacingAndGlyphs">500</text>
<text x="422.6" y="340.6" font-size="13" font-weight="normal" text-anchor="middle" textLength="21.3" lengthAdjust="spacingAndGlyphs">750</text>
<text x="466.1" y="340.6" font-size="13" font-weight="normal" text-anchor="middle" textLength="28.3" lengthAdjust="spacingAndGlyphs">1250</text>
<text x="589.6" y="340.6" font-size="13" font-weight="normal" text-anchor="middle" textLength="28.3" lengthAdjust="spacingAndGlyphs">1500</text>
<line x1="453.3" y1="206.3" x2="462.3" y2="189.9" stroke="#000" stroke-width="1.8"/>
<line x1="462.5" y1="206.3" x2="471.5" y2="189.9" stroke="#000" stroke-width="1.8"/>
<line x1="453.3" y1="328.6" x2="462.3" y2="312.2" stroke="#000" stroke-width="1.8"/>
<line x1="462.5" y1="328.6" x2="471.5" y2="312.2" stroke="#000" stroke-width="1.8"/>
<g clip-path="url(#cb)">
<polyline fill="none" stroke="#0000ff" stroke-width="1.15" points="157.5,180 157.5,182.2 157.5,186.6 157.5,193.2 157.5,202 157.47,209.96 157.41,217.09 157.31,223.38 157.19,228.83 157.06,233.99 156.94,238.88 156.81,243.49 156.69,247.81 156.56,251.86 156.44,255.64 156.31,259.14 156.19,262.36 156.06,265.55 155.92,268.7 155.77,271.81 155.62,274.89 155.45,277.77 155.25,280.46 155.03,282.95 154.78,285.25 154.49,287.64 154.18,290.11 153.84,292.68 153.46,295.32 153.04,297.77 152.58,300.01 152.08,302.04 151.53,303.86 150.93,305.51 150.29,306.97 149.61,308.25 148.89,309.35 148.34,310.17 147.98,310.73 147.8,311"/>
<polyline fill="none" stroke="#0000ff" stroke-width="1.15" points="172.4,180 172.41,181.75 172.44,185.25 172.47,190.5 172.53,197.5 172.59,204.32 172.66,210.98 172.75,217.45 172.85,223.75 172.97,229.84 173.11,235.71 173.26,241.38 173.44,246.83 173.62,251.83 173.81,256.39 174,260.51 174.2,264.19 174.4,267.62 174.6,270.81 174.8,273.75 175,276.45 175.21,279.01 175.44,281.42 175.68,283.69 175.93,285.81 176.18,288.05 176.44,290.4 176.71,292.86 176.99,295.44 177.36,297.83 177.82,300.02 178.38,302.04 179.02,303.86 179.79,305.51 180.66,306.97 181.65,308.25 182.75,309.35 183.58,310.17 184.12,310.73 184.4,311"/>
<polyline fill="none" stroke="#0000ff" stroke-width="1.1" points="340,317 340.5,316.98 341,316.96 341.5,316.94 342,316.92 342.5,316.9 343,316.89 343.5,316.88 344,316.86 344.5,316.85 345,316.84 345.5,316.83 346,316.82 346.5,316.81 347,316.8 347.5,316.78 348,316.77 348.5,316.76 349,316.75 349.5,316.74 350,316.73 350.5,316.72 351,316.7 351.5,316.69 352,316.68 352.5,316.67 353,316.66 353.5,316.65 354,316.64 354.5,316.62 355,316.61 355.5,316.6 356,316.59 356.5,316.58 357,316.57 357.5,316.56 358,316.55 358.5,316.53 359,316.52 359.5,316.51 360,316.5 360.5,316.49 361,316.48 361.5,316.47 362,316.45 362.5,316.44 363,316.43 363.5,316.42 364,316.41 364.5,316.38 365,316.31 365.5,316.24 366,316.16 366.5,316.08 367,316.01 367.5,315.94 368,315.86 368.5,315.79 369,315.71 369.5,315.63 370,315.56 370.5,315.49 371,315.41 371.5,315.33 372,315.26 372.5,315.17 373,315.04 373.5,314.9 374,314.77 374.5,314.63 375,314.5 375.5,314.36 376,314.23 376.5,314.09 377,313.96 377.5,313.82 378,313.68 378.5,313.55 379,313.41 379.5,313.28 380,313.14 380.5,313.01 381,312.85 381.5,312.58 382,312.31 382.5,312.04 383,311.77 383.5,311.5 384,311.23 384.5,310.96 385,310.69 385.5,310.42 386,310.15 386.5,309.88 387,309.62 387.5,309.3 388,308.82 388.5,308.34 389,307.86 389.5,307.38 390,306.85 390.5,306.08 391,305.31 391.5,304.46 392,303.25 392.5,302.04 393,300.35 393.5,298.53 394,296.3 394.5,293.8 395,290.85 395.5,287.6 396,283.8 396.5,279.63 397,275.45 397.5,270.97 398,265.3 398.5,258.9 399,252.98 399.5,246.6 400,239.7 400.5,233.3 401,227.8 401.5,223.12 402,219.75 402.5,216.37 403,213.01 403.5,209.65 404,206.68 404.5,203.99 405,201.3 405.5,199.87 406,198.44 406.5,197.59 407,199.01 407.5,200.44 408,202.38 408.5,205.07 409,207.76 409.5,210.99 410,214.35 410.5,217.73 411,221.1 411.5,224.8 412,229.8 412.5,235.8 413,242.5 413.5,249.2 414,255.35 414.5,261.46 415,267.57 415.5,272.94 416,277.13 416.5,281.3 417,285.47 417.5,288.9 418,292.15 418.5,294.8 419,297.3 419.5,299.25 420,301.07 420.5,302.53 421,303.73 421.5,304.85 422,305.62 422.5,306.39 423,307.1 423.5,307.58 424,308.06 424.5,308.54 425,309.02 425.5,309.45 426,309.72 426.5,309.99 427,310.26 427.5,310.53 428,310.8 428.5,311.07 429,311.34 429.5,311.61 430,311.88 430.5,312.15 431,312.42 431.5,312.68 432,312.93 432.5,313.06 433,313.2 433.5,313.33 434,313.47 434.5,313.6 435,313.74 435.5,313.87 436,314.01 436.5,314.14 437,314.28 437.5,314.42 438,314.55 438.5,314.69 439,314.82 439.5,314.96 440,315.09 440.5,315.22 441,315.29 441.5,315.37 442,315.44 442.5,315.52 443,315.59 443.5,315.67 444,315.74 444.5,315.81 445,315.89 445.5,315.97 446,316.04 446.5,316.12 447,316.19 447.5,316.27 448,316.34 448.5,316.4 449,316.41 449.5,316.43 450,316.44 450.5,316.45 451,316.46 451.5,316.47 452,316.48 452.5,316.49 453,316.5 453.5,316.52 454,316.53 454.5,316.54 455,316.55 455.5,316.56 456,316.57 456.5,316.58 457,316.6 457.5,316.61"/>
<polyline fill="none" stroke="#0000ff" stroke-width="1.2" points="532.2,308.57 533.2,308.04 534.2,307.54 535.2,307.06 536.2,306.61 537.2,306.21 538.2,305.86 539.2,305.57 540.2,305.34 541.2,305.19 542.2,305.11 543.2,305.11 544.2,305.19 545.2,305.34 546.2,305.57 547.2,305.86 548.2,306.21 549.2,306.61 550.2,307.06 551.2,307.54 552.2,308.04 553.2,308.57 554.2,309.1 555.2,309.65 556.2,310.19 557.2,310.72 558.2,311.24 559.2,311.75 560.2,312.24 561.2,312.71 562.2,313.15 563.2,313.57 564.2,313.97 565.2,314.34 566.2,314.68 567.2,314.99 568.2,315.27 569.2,315.54 570.2,315.77 571.2,315.99 572.2,316.18 573.2,316.35 574.2,316.5 575.2,316.64 576.2,316.76"/>
<g shape-rendering="crispEdges">
<rect x="79.3" y="316" width="16.7" height="5" fill="#ff0000"/>
<rect x="274" y="316" width="73" height="5" fill="#ff0000"/>
<rect x="448.25" y="316" width="9.95" height="5" fill="#ff0000"/>
<rect x="466.8" y="316" width="43" height="5" fill="#ff0000"/>
<rect x="571.55" y="316" width="19.05" height="5" fill="#ff0000"/>
</g>
<path stroke="#ff0000" stroke-width="1" shape-rendering="crispEdges" d="M585 315.5h1M581 315.5h1M475 315.5h2M489 315.5h2M117 315.5h1M221 315.5h1"/>
<path fill="#ff0000" d="M153.9 292.5m-2.9 0a2.9 2.9 0 1 0 5.8 0a2.9 2.9 0 1 0 -5.8 0M153.77 293.39m-2.9 0a2.9 2.9 0 1 0 5.8 0a2.9 2.9 0 1 0 -5.8 0M153.65 294.28m-2.9 0a2.9 2.9 0 1 0 5.8 0a2.9 2.9 0 1 0 -5.8 0M153.52 295.17m-2.9 0a2.9 2.9 0 1 0 5.8 0a2.9 2.9 0 1 0 -5.8 0M153.39 296.06m-2.9 0a2.9 2.9 0 1 0 5.8 0a2.9 2.9 0 1 0 -5.8 0M153.25 296.95m-2.9 0a2.9 2.9 0 1 0 5.8 0a2.9 2.9 0 1 0 -5.8 0M153.12 297.84m-2.9 0a2.9 2.9 0 1 0 5.8 0a2.9 2.9 0 1 0 -5.8 0M152.96 298.73m-2.9 0a2.9 2.9 0 1 0 5.8 0a2.9 2.9 0 1 0 -5.8 0M152.78 299.61m-2.9 0a2.9 2.9 0 1 0 5.8 0a2.9 2.9 0 1 0 -5.8 0M152.57 300.49m-2.9 0a2.9 2.9 0 1 0 5.8 0a2.9 2.9 0 1 0 -5.8 0M152.34 301.36m-2.9 0a2.9 2.9 0 1 0 5.8 0a2.9 2.9 0 1 0 -5.8 0M152.1 302.22m-2.9 0a2.9 2.9 0 1 0 5.8 0a2.9 2.9 0 1 0 -5.8 0M151.85 303.09m-2.9 0a2.9 2.9 0 1 0 5.8 0a2.9 2.9 0 1 0 -5.8 0M151.58 303.95m-2.9 0a2.9 2.9 0 1 0 5.8 0a2.9 2.9 0 1 0 -5.8 0M151.3 304.8m-2.9 0a2.9 2.9 0 1 0 5.8 0a2.9 2.9 0 1 0 -5.8 0M151 305.65m-2.9 0a2.9 2.9 0 1 0 5.8 0a2.9 2.9 0 1 0 -5.8 0M150.67 306.49m-2.9 0a2.9 2.9 0 1 0 5.8 0a2.9 2.9 0 1 0 -5.8 0M150.3 307.31m-2.9 0a2.9 2.9 0 1 0 5.8 0a2.9 2.9 0 1 0 -5.8 0M149.88 308.1m-2.9 0a2.9 2.9 0 1 0 5.8 0a2.9 2.9 0 1 0 -5.8 0M149.41 308.87m-2.9 0a2.9 2.9 0 1 0 5.8 0a2.9 2.9 0 1 0 -5.8 0M148.9 309.61m-2.9 0a2.9 2.9 0 1 0 5.8 0a2.9 2.9 0 1 0 -5.8 0M148.34 310.31m-2.9 0a2.9 2.9 0 1 0 5.8 0a2.9 2.9 0 1 0 -5.8 0M147.69 310.94m-2.9 0a2.9 2.9 0 1 0 5.8 0a2.9 2.9 0 1 0 -5.8 0M146.99 311.5m-2.9 0a2.9 2.9 0 1 0 5.8 0a2.9 2.9 0 1 0 -5.8 0M146.24 312m-2.9 0a2.9 2.9 0 1 0 5.8 0a2.9 2.9 0 1 0 -5.8 0M145.47 312.46m-2.9 0a2.9 2.9 0 1 0 5.8 0a2.9 2.9 0 1 0 -5.8 0M144.67 312.87m-2.9 0a2.9 2.9 0 1 0 5.8 0a2.9 2.9 0 1 0 -5.8 0M143.84 313.23m-2.9 0a2.9 2.9 0 1 0 5.8 0a2.9 2.9 0 1 0 -5.8 0M142.99 313.53m-2.9 0a2.9 2.9 0 1 0 5.8 0a2.9 2.9 0 1 0 -5.8 0M142.13 313.79m-2.9 0a2.9 2.9 0 1 0 5.8 0a2.9 2.9 0 1 0 -5.8 0M141.26 314.02m-2.9 0a2.9 2.9 0 1 0 5.8 0a2.9 2.9 0 1 0 -5.8 0M140.39 314.24m-2.9 0a2.9 2.9 0 1 0 5.8 0a2.9 2.9 0 1 0 -5.8 0M139.51 314.44m-2.9 0a2.9 2.9 0 1 0 5.8 0a2.9 2.9 0 1 0 -5.8 0M138.63 314.63m-2.9 0a2.9 2.9 0 1 0 5.8 0a2.9 2.9 0 1 0 -5.8 0M137.75 314.81m-2.9 0a2.9 2.9 0 1 0 5.8 0a2.9 2.9 0 1 0 -5.8 0M136.87 314.98m-2.9 0a2.9 2.9 0 1 0 5.8 0a2.9 2.9 0 1 0 -5.8 0M135.98 315.13m-2.9 0a2.9 2.9 0 1 0 5.79 0a2.9 2.9 0 1 0 -5.79 0M135.09 315.28m-2.88 0a2.88 2.88 0 1 0 5.75 0a2.88 2.88 0 1 0 -5.75 0M134.2 315.41m-2.86 0a2.86 2.86 0 1 0 5.72 0a2.86 2.86 0 1 0 -5.72 0M133.31 315.54m-2.84 0a2.84 2.84 0 1 0 5.68 0a2.84 2.84 0 1 0 -5.68 0M132.42 315.65m-2.83 0a2.83 2.83 0 1 0 5.65 0a2.83 2.83 0 1 0 -5.65 0M131.52 315.76m-2.81 0a2.81 2.81 0 1 0 5.62 0a2.81 2.81 0 1 0 -5.62 0M130.63 315.87m-2.8 0a2.8 2.8 0 1 0 5.6 0a2.8 2.8 0 1 0 -5.6 0M129.74 315.98m-2.78 0a2.78 2.78 0 1 0 5.57 0a2.78 2.78 0 1 0 -5.57 0M128.84 316.08m-2.77 0a2.77 2.77 0 1 0 5.54 0a2.77 2.77 0 1 0 -5.54 0M127.95 316.19m-2.75 0a2.75 2.75 0 1 0 5.51 0a2.75 2.75 0 1 0 -5.51 0M127.06 316.29m-2.74 0a2.74 2.74 0 1 0 5.48 0a2.74 2.74 0 1 0 -5.48 0M126.16 316.4m-2.73 0a2.73 2.73 0 1 0 5.45 0a2.73 2.73 0 1 0 -5.45 0M125.27 316.5m-2.71 0a2.71 2.71 0 1 0 5.43 0a2.71 2.71 0 1 0 -5.43 0M124.37 316.6m-2.7 0a2.7 2.7 0 1 0 5.4 0a2.7 2.7 0 1 0 -5.4 0M123.48 316.7m-2.69 0a2.69 2.69 0 1 0 5.37 0a2.69 2.69 0 1 0 -5.37 0M122.58 316.79m-2.67 0a2.67 2.67 0 1 0 5.35 0a2.67 2.67 0 1 0 -5.35 0M121.69 316.88m-2.66 0a2.66 2.66 0 1 0 5.33 0a2.66 2.66 0 1 0 -5.33 0M120.79 316.97m-2.65 0a2.65 2.65 0 1 0 5.3 0a2.65 2.65 0 1 0 -5.3 0M119.9 317.04m-2.64 0a2.64 2.64 0 1 0 5.28 0a2.64 2.64 0 1 0 -5.28 0M119 317.11m-2.63 0a2.63 2.63 0 1 0 5.26 0a2.63 2.63 0 1 0 -5.26 0M118.1 317.18m-2.62 0a2.62 2.62 0 1 0 5.24 0a2.62 2.62 0 1 0 -5.24 0M117.2 317.24m-2.61 0a2.61 2.61 0 1 0 5.23 0a2.61 2.61 0 1 0 -5.23 0M116.31 317.31m-2.61 0a2.61 2.61 0 1 0 5.21 0a2.61 2.61 0 1 0 -5.21 0M115.41 317.37m-2.6 0a2.6 2.6 0 1 0 5.2 0a2.6 2.6 0 1 0 -5.2 0M114.51 317.42m-2.59 0a2.59 2.59 0 1 0 5.18 0a2.59 2.59 0 1 0 -5.18 0M113.61 317.47m-2.58 0a2.58 2.58 0 1 0 5.17 0a2.58 2.58 0 1 0 -5.17 0M112.71 317.53m-2.58 0a2.58 2.58 0 1 0 5.15 0a2.58 2.58 0 1 0 -5.15 0M111.81 317.57m-2.57 0a2.57 2.57 0 1 0 5.14 0a2.57 2.57 0 1 0 -5.14 0M110.91 317.62m-2.56 0a2.56 2.56 0 1 0 5.13 0a2.56 2.56 0 1 0 -5.13 0M110.02 317.67m-2.56 0a2.56 2.56 0 1 0 5.11 0a2.56 2.56 0 1 0 -5.11 0M109.12 317.72m-2.55 0a2.55 2.55 0 1 0 5.1 0a2.55 2.55 0 1 0 -5.1 0M108.22 317.76m-2.55 0a2.55 2.55 0 1 0 5.09 0a2.55 2.55 0 1 0 -5.09 0M107.32 317.8m-2.54 0a2.54 2.54 0 1 0 5.08 0a2.54 2.54 0 1 0 -5.08 0M106.42 317.84m-2.53 0a2.53 2.53 0 1 0 5.07 0a2.53 2.53 0 1 0 -5.07 0M105.52 317.88m-2.53 0a2.53 2.53 0 1 0 5.06 0a2.53 2.53 0 1 0 -5.06 0M104.62 317.92m-2.52 0a2.52 2.52 0 1 0 5.05 0a2.52 2.52 0 1 0 -5.05 0M103.72 317.96m-2.52 0a2.52 2.52 0 1 0 5.04 0a2.52 2.52 0 1 0 -5.04 0M102.82 318m-2.51 0a2.51 2.51 0 1 0 5.03 0a2.51 2.51 0 1 0 -5.03 0M101.92 318.03m-2.51 0a2.51 2.51 0 1 0 5.02 0a2.51 2.51 0 1 0 -5.02 0M101.02 318.07m-2.5 0a2.5 2.5 0 1 0 5.01 0a2.5 2.5 0 1 0 -5.01 0M100.13 318.1m-2.5 0a2.5 2.5 0 1 0 5 0a2.5 2.5 0 1 0 -5 0M99.23 318.14m-2.5 0a2.5 2.5 0 1 0 5 0a2.5 2.5 0 1 0 -5 0M98.33 318.17m-2.5 0a2.5 2.5 0 1 0 5 0a2.5 2.5 0 1 0 -5 0M97.43 318.21m-2.5 0a2.5 2.5 0 1 0 5 0a2.5 2.5 0 1 0 -5 0M96.53 318.24m-2.5 0a2.5 2.5 0 1 0 5 0a2.5 2.5 0 1 0 -5 0M95.63 318.28m-2.5 0a2.5 2.5 0 1 0 5 0a2.5 2.5 0 1 0 -5 0"/>
<path fill="#ff0000" d="M176.7 292.5m-2.9 0a2.9 2.9 0 1 0 5.8 0a2.9 2.9 0 1 0 -5.8 0M176.78 293.4m-2.9 0a2.9 2.9 0 1 0 5.8 0a2.9 2.9 0 1 0 -5.8 0M176.85 294.29m-2.9 0a2.9 2.9 0 1 0 5.8 0a2.9 2.9 0 1 0 -5.8 0M176.93 295.19m-2.9 0a2.9 2.9 0 1 0 5.8 0a2.9 2.9 0 1 0 -5.8 0M177.02 296.09m-2.9 0a2.9 2.9 0 1 0 5.8 0a2.9 2.9 0 1 0 -5.8 0M177.12 296.98m-2.9 0a2.9 2.9 0 1 0 5.8 0a2.9 2.9 0 1 0 -5.8 0M177.23 297.87m-2.9 0a2.9 2.9 0 1 0 5.8 0a2.9 2.9 0 1 0 -5.8 0M177.37 298.76m-2.9 0a2.9 2.9 0 1 0 5.8 0a2.9 2.9 0 1 0 -5.8 0M177.57 299.64m-2.9 0a2.9 2.9 0 1 0 5.8 0a2.9 2.9 0 1 0 -5.8 0M177.8 300.51m-2.9 0a2.9 2.9 0 1 0 5.8 0a2.9 2.9 0 1 0 -5.8 0M178.07 301.37m-2.9 0a2.9 2.9 0 1 0 5.8 0a2.9 2.9 0 1 0 -5.8 0M178.36 302.22m-2.9 0a2.9 2.9 0 1 0 5.8 0a2.9 2.9 0 1 0 -5.8 0M178.65 303.07m-2.9 0a2.9 2.9 0 1 0 5.8 0a2.9 2.9 0 1 0 -5.8 0M178.96 303.92m-2.9 0a2.9 2.9 0 1 0 5.8 0a2.9 2.9 0 1 0 -5.8 0M179.28 304.76m-2.9 0a2.9 2.9 0 1 0 5.8 0a2.9 2.9 0 1 0 -5.8 0M179.63 305.59m-2.9 0a2.9 2.9 0 1 0 5.8 0a2.9 2.9 0 1 0 -5.8 0M180.04 306.39m-2.9 0a2.9 2.9 0 1 0 5.8 0a2.9 2.9 0 1 0 -5.8 0M180.51 307.15m-2.9 0a2.9 2.9 0 1 0 5.8 0a2.9 2.9 0 1 0 -5.8 0M181.06 307.87m-2.9 0a2.9 2.9 0 1 0 5.8 0a2.9 2.9 0 1 0 -5.8 0M181.65 308.54m-2.9 0a2.9 2.9 0 1 0 5.8 0a2.9 2.9 0 1 0 -5.8 0M182.28 309.18m-2.9 0a2.9 2.9 0 1 0 5.8 0a2.9 2.9 0 1 0 -5.8 0M182.95 309.79m-2.9 0a2.9 2.9 0 1 0 5.8 0a2.9 2.9 0 1 0 -5.8 0M183.65 310.36m-2.9 0a2.9 2.9 0 1 0 5.8 0a2.9 2.9 0 1 0 -5.8 0M184.38 310.88m-2.9 0a2.9 2.9 0 1 0 5.8 0a2.9 2.9 0 1 0 -5.8 0M185.14 311.35m-2.9 0a2.9 2.9 0 1 0 5.8 0a2.9 2.9 0 1 0 -5.8 0M185.94 311.77m-2.9 0a2.9 2.9 0 1 0 5.8 0a2.9 2.9 0 1 0 -5.8 0M186.76 312.13m-2.9 0a2.9 2.9 0 1 0 5.8 0a2.9 2.9 0 1 0 -5.8 0M187.61 312.44m-2.9 0a2.9 2.9 0 1 0 5.8 0a2.9 2.9 0 1 0 -5.8 0M188.47 312.71m-2.9 0a2.9 2.9 0 1 0 5.8 0a2.9 2.9 0 1 0 -5.8 0M189.34 312.94m-2.9 0a2.9 2.9 0 1 0 5.8 0a2.9 2.9 0 1 0 -5.8 0M190.22 313.13m-2.9 0a2.9 2.9 0 1 0 5.8 0a2.9 2.9 0 1 0 -5.8 0M191.1 313.3m-2.9 0a2.9 2.9 0 1 0 5.8 0a2.9 2.9 0 1 0 -5.8 0M191.99 313.46m-2.9 0a2.9 2.9 0 1 0 5.8 0a2.9 2.9 0 1 0 -5.8 0M192.87 313.62m-2.9 0a2.9 2.9 0 1 0 5.8 0a2.9 2.9 0 1 0 -5.8 0M193.76 313.77m-2.9 0a2.9 2.9 0 1 0 5.8 0a2.9 2.9 0 1 0 -5.8 0M194.65 313.91m-2.9 0a2.9 2.9 0 1 0 5.8 0a2.9 2.9 0 1 0 -5.8 0M195.54 314.05m-2.9 0a2.9 2.9 0 1 0 5.8 0a2.9 2.9 0 1 0 -5.8 0M196.43 314.18m-2.9 0a2.9 2.9 0 1 0 5.8 0a2.9 2.9 0 1 0 -5.8 0M197.32 314.3m-2.9 0a2.9 2.9 0 1 0 5.8 0a2.9 2.9 0 1 0 -5.8 0M198.21 314.43m-2.9 0a2.9 2.9 0 1 0 5.8 0a2.9 2.9 0 1 0 -5.8 0M199.1 314.54m-2.9 0a2.9 2.9 0 1 0 5.8 0a2.9 2.9 0 1 0 -5.8 0M200 314.65m-2.9 0a2.9 2.9 0 1 0 5.8 0a2.9 2.9 0 1 0 -5.8 0M200.89 314.76m-2.9 0a2.9 2.9 0 1 0 5.8 0a2.9 2.9 0 1 0 -5.8 0M201.79 314.86m-2.9 0a2.9 2.9 0 1 0 5.8 0a2.9 2.9 0 1 0 -5.8 0M202.68 314.96m-2.9 0a2.9 2.9 0 1 0 5.8 0a2.9 2.9 0 1 0 -5.8 0M203.58 315.06m-2.9 0a2.9 2.9 0 1 0 5.8 0a2.9 2.9 0 1 0 -5.8 0M204.47 315.15m-2.89 0a2.89 2.89 0 1 0 5.79 0a2.89 2.89 0 1 0 -5.79 0M205.37 315.24m-2.88 0a2.88 2.88 0 1 0 5.76 0a2.88 2.88 0 1 0 -5.76 0M206.26 315.32m-2.87 0a2.87 2.87 0 1 0 5.74 0a2.87 2.87 0 1 0 -5.74 0M207.16 315.4m-2.86 0a2.86 2.86 0 1 0 5.72 0a2.86 2.86 0 1 0 -5.72 0M208.05 315.49m-2.85 0a2.85 2.85 0 1 0 5.7 0a2.85 2.85 0 1 0 -5.7 0M208.95 315.57m-2.84 0a2.84 2.84 0 1 0 5.68 0a2.84 2.84 0 1 0 -5.68 0M209.85 315.64m-2.83 0a2.83 2.83 0 1 0 5.66 0a2.83 2.83 0 1 0 -5.66 0M210.74 315.71m-2.82 0a2.82 2.82 0 1 0 5.64 0a2.82 2.82 0 1 0 -5.64 0M211.64 315.79m-2.81 0a2.81 2.81 0 1 0 5.62 0a2.81 2.81 0 1 0 -5.62 0M212.54 315.85m-2.8 0a2.8 2.8 0 1 0 5.6 0a2.8 2.8 0 1 0 -5.6 0M213.44 315.92m-2.79 0a2.79 2.79 0 1 0 5.58 0a2.79 2.79 0 1 0 -5.58 0M214.33 315.99m-2.78 0a2.78 2.78 0 1 0 5.56 0a2.78 2.78 0 1 0 -5.56 0M215.23 316.05m-2.77 0a2.77 2.77 0 1 0 5.55 0a2.77 2.77 0 1 0 -5.55 0M216.13 316.11m-2.77 0a2.77 2.77 0 1 0 5.53 0a2.77 2.77 0 1 0 -5.53 0M217.03 316.17m-2.76 0a2.76 2.76 0 1 0 5.52 0a2.76 2.76 0 1 0 -5.52 0M217.93 316.23m-2.75 0a2.75 2.75 0 1 0 5.5 0a2.75 2.75 0 1 0 -5.5 0M218.82 316.28m-2.74 0a2.74 2.74 0 1 0 5.48 0a2.74 2.74 0 1 0 -5.48 0M219.72 316.34m-2.73 0a2.73 2.73 0 1 0 5.47 0a2.73 2.73 0 1 0 -5.47 0M220.62 316.4m-2.73 0a2.73 2.73 0 1 0 5.45 0a2.73 2.73 0 1 0 -5.45 0M221.52 316.46m-2.72 0a2.72 2.72 0 1 0 5.44 0a2.72 2.72 0 1 0 -5.44 0M222.42 316.51m-2.71 0a2.71 2.71 0 1 0 5.42 0a2.71 2.71 0 1 0 -5.42 0M223.32 316.57m-2.7 0a2.7 2.7 0 1 0 5.41 0a2.7 2.7 0 1 0 -5.41 0M224.21 316.62m-2.7 0a2.7 2.7 0 1 0 5.39 0a2.7 2.7 0 1 0 -5.39 0M225.11 316.67m-2.69 0a2.69 2.69 0 1 0 5.38 0a2.69 2.69 0 1 0 -5.38 0M226.01 316.73m-2.68 0a2.68 2.68 0 1 0 5.37 0a2.68 2.68 0 1 0 -5.37 0M226.91 316.78m-2.68 0a2.68 2.68 0 1 0 5.35 0a2.68 2.68 0 1 0 -5.35 0M227.81 316.83m-2.67 0a2.67 2.67 0 1 0 5.34 0a2.67 2.67 0 1 0 -5.34 0M228.71 316.88m-2.66 0a2.66 2.66 0 1 0 5.32 0a2.66 2.66 0 1 0 -5.32 0M229.61 316.93m-2.66 0a2.66 2.66 0 1 0 5.31 0a2.66 2.66 0 1 0 -5.31 0M230.5 316.99m-2.65 0a2.65 2.65 0 1 0 5.3 0a2.65 2.65 0 1 0 -5.3 0M231.4 317.03m-2.64 0a2.64 2.64 0 1 0 5.28 0a2.64 2.64 0 1 0 -5.28 0M232.3 317.08m-2.64 0a2.64 2.64 0 1 0 5.27 0a2.64 2.64 0 1 0 -5.27 0M233.2 317.12m-2.63 0a2.63 2.63 0 1 0 5.26 0a2.63 2.63 0 1 0 -5.26 0M234.1 317.17m-2.62 0a2.62 2.62 0 1 0 5.25 0a2.62 2.62 0 1 0 -5.25 0M235 317.21m-2.62 0a2.62 2.62 0 1 0 5.24 0a2.62 2.62 0 1 0 -5.24 0M235.9 317.25m-2.61 0a2.61 2.61 0 1 0 5.23 0a2.61 2.61 0 1 0 -5.23 0M236.8 317.3m-2.61 0a2.61 2.61 0 1 0 5.21 0a2.61 2.61 0 1 0 -5.21 0M237.7 317.34m-2.6 0a2.6 2.6 0 1 0 5.2 0a2.6 2.6 0 1 0 -5.2 0M238.59 317.38m-2.6 0a2.6 2.6 0 1 0 5.19 0a2.6 2.6 0 1 0 -5.19 0M239.49 317.41m-2.59 0a2.59 2.59 0 1 0 5.18 0a2.59 2.59 0 1 0 -5.18 0M240.39 317.45m-2.59 0a2.59 2.59 0 1 0 5.17 0a2.59 2.59 0 1 0 -5.17 0M241.29 317.49m-2.58 0a2.58 2.58 0 1 0 5.16 0a2.58 2.58 0 1 0 -5.16 0M242.19 317.52m-2.58 0a2.58 2.58 0 1 0 5.15 0a2.58 2.58 0 1 0 -5.15 0M243.09 317.56m-2.57 0a2.57 2.57 0 1 0 5.14 0a2.57 2.57 0 1 0 -5.14 0M243.99 317.59m-2.57 0a2.57 2.57 0 1 0 5.13 0a2.57 2.57 0 1 0 -5.13 0M244.89 317.63m-2.56 0a2.56 2.56 0 1 0 5.13 0a2.56 2.56 0 1 0 -5.13 0M245.79 317.66m-2.56 0a2.56 2.56 0 1 0 5.12 0a2.56 2.56 0 1 0 -5.12 0M246.69 317.69m-2.55 0a2.55 2.55 0 1 0 5.11 0a2.55 2.55 0 1 0 -5.11 0M247.59 317.73m-2.55 0a2.55 2.55 0 1 0 5.1 0a2.55 2.55 0 1 0 -5.1 0M248.49 317.76m-2.55 0a2.55 2.55 0 1 0 5.09 0a2.55 2.55 0 1 0 -5.09 0M249.39 317.79m-2.54 0a2.54 2.54 0 1 0 5.08 0a2.54 2.54 0 1 0 -5.08 0M250.29 317.82m-2.54 0a2.54 2.54 0 1 0 5.08 0a2.54 2.54 0 1 0 -5.08 0M251.19 317.84m-2.53 0a2.53 2.53 0 1 0 5.07 0a2.53 2.53 0 1 0 -5.07 0M252.08 317.87m-2.53 0a2.53 2.53 0 1 0 5.06 0a2.53 2.53 0 1 0 -5.06 0M252.98 317.9m-2.53 0a2.53 2.53 0 1 0 5.05 0a2.53 2.53 0 1 0 -5.05 0M253.88 317.93m-2.52 0a2.52 2.52 0 1 0 5.05 0a2.52 2.52 0 1 0 -5.05 0M254.78 317.95m-2.52 0a2.52 2.52 0 1 0 5.04 0a2.52 2.52 0 1 0 -5.04 0M255.68 317.98m-2.52 0a2.52 2.52 0 1 0 5.03 0a2.52 2.52 0 1 0 -5.03 0M256.58 318m-2.51 0a2.51 2.51 0 1 0 5.03 0a2.51 2.51 0 1 0 -5.03 0M257.48 318.03m-2.51 0a2.51 2.51 0 1 0 5.02 0a2.51 2.51 0 1 0 -5.02 0M258.38 318.05m-2.51 0a2.51 2.51 0 1 0 5.01 0a2.51 2.51 0 1 0 -5.01 0M259.28 318.07m-2.5 0a2.5 2.5 0 1 0 5.01 0a2.5 2.5 0 1 0 -5.01 0M260.18 318.09m-2.5 0a2.5 2.5 0 1 0 5 0a2.5 2.5 0 1 0 -5 0M261.08 318.12m-2.5 0a2.5 2.5 0 1 0 5 0a2.5 2.5 0 1 0 -5 0M261.98 318.14m-2.5 0a2.5 2.5 0 1 0 5 0a2.5 2.5 0 1 0 -5 0M262.88 318.16m-2.5 0a2.5 2.5 0 1 0 5 0a2.5 2.5 0 1 0 -5 0M263.78 318.18m-2.5 0a2.5 2.5 0 1 0 5 0a2.5 2.5 0 1 0 -5 0M264.68 318.19m-2.5 0a2.5 2.5 0 1 0 5 0a2.5 2.5 0 1 0 -5 0M265.58 318.21m-2.5 0a2.5 2.5 0 1 0 5 0a2.5 2.5 0 1 0 -5 0M266.48 318.23m-2.5 0a2.5 2.5 0 1 0 5 0a2.5 2.5 0 1 0 -5 0M267.38 318.25m-2.5 0a2.5 2.5 0 1 0 5 0a2.5 2.5 0 1 0 -5 0M268.28 318.27m-2.5 0a2.5 2.5 0 1 0 5 0a2.5 2.5 0 1 0 -5 0M269.18 318.28m-2.5 0a2.5 2.5 0 1 0 5 0a2.5 2.5 0 1 0 -5 0M270.08 318.3m-2.5 0a2.5 2.5 0 1 0 5 0a2.5 2.5 0 1 0 -5 0M270.98 318.32m-2.5 0a2.5 2.5 0 1 0 5 0a2.5 2.5 0 1 0 -5 0M271.88 318.34m-2.5 0a2.5 2.5 0 1 0 5 0a2.5 2.5 0 1 0 -5 0M272.78 318.36m-2.5 0a2.5 2.5 0 1 0 5 0a2.5 2.5 0 1 0 -5 0M273.68 318.37m-2.5 0a2.5 2.5 0 1 0 5 0a2.5 2.5 0 1 0 -5 0M274.58 318.39m-2.5 0a2.5 2.5 0 1 0 5 0a2.5 2.5 0 1 0 -5 0"/>
<path fill="#ff0000" d="M157.4 215.2m-2.9 0a2.9 2.9 0 1 0 5.8 0a2.9 2.9 0 1 0 -5.8 0M157 237m-2.9 0a2.9 2.9 0 1 0 5.8 0a2.9 2.9 0 1 0 -5.8 0M156.5 254.3m-2.9 0a2.9 2.9 0 1 0 5.8 0a2.9 2.9 0 1 0 -5.8 0M156 267.2m-2.9 0a2.9 2.9 0 1 0 5.8 0a2.9 2.9 0 1 0 -5.8 0M155.4 279.5m-2.9 0a2.9 2.9 0 1 0 5.8 0a2.9 2.9 0 1 0 -5.8 0M154.4 288.7m-2.9 0a2.9 2.9 0 1 0 5.8 0a2.9 2.9 0 1 0 -5.8 0M172.8 208m-2.9 0a2.9 2.9 0 1 0 5.8 0a2.9 2.9 0 1 0 -5.8 0M173 233.2m-2.9 0a2.9 2.9 0 1 0 5.8 0a2.9 2.9 0 1 0 -5.8 0M173.7 255m-2.9 0a2.9 2.9 0 1 0 5.8 0a2.9 2.9 0 1 0 -5.8 0M174.5 269.7m-2.9 0a2.9 2.9 0 1 0 5.8 0a2.9 2.9 0 1 0 -5.8 0M175.3 280.5m-2.9 0a2.9 2.9 0 1 0 5.8 0a2.9 2.9 0 1 0 -5.8 0M176.3 289m-2.9 0a2.9 2.9 0 1 0 5.8 0a2.9 2.9 0 1 0 -5.8 0"/>
<path fill="#ff0000" d="M326.78 317.8m-2.55 0a2.55 2.55 0 1 0 5.09 0a2.55 2.55 0 1 0 -5.09 0M327.52 317.7m-2.55 0a2.55 2.55 0 1 0 5.1 0a2.55 2.55 0 1 0 -5.1 0M328.16 317.71m-2.55 0a2.55 2.55 0 1 0 5.1 0a2.55 2.55 0 1 0 -5.1 0M328.87 317.62m-2.56 0a2.56 2.56 0 1 0 5.11 0a2.56 2.56 0 1 0 -5.11 0M329.54 317.75m-2.56 0a2.56 2.56 0 1 0 5.12 0a2.56 2.56 0 1 0 -5.12 0M330.24 317.76m-2.56 0a2.56 2.56 0 1 0 5.13 0a2.56 2.56 0 1 0 -5.13 0M330.98 317.41m-2.57 0a2.57 2.57 0 1 0 5.14 0a2.57 2.57 0 1 0 -5.14 0M331.65 317.47m-2.57 0a2.57 2.57 0 1 0 5.14 0a2.57 2.57 0 1 0 -5.14 0M332.5 317.42m-2.58 0a2.58 2.58 0 1 0 5.15 0a2.58 2.58 0 1 0 -5.15 0M333.13 317.34m-2.58 0a2.58 2.58 0 1 0 5.16 0a2.58 2.58 0 1 0 -5.16 0M333.78 317.67m-2.58 0a2.58 2.58 0 1 0 5.17 0a2.58 2.58 0 1 0 -5.17 0M334.61 317.61m-2.59 0a2.59 2.59 0 1 0 5.18 0a2.59 2.59 0 1 0 -5.18 0M335.38 317.2m-2.59 0a2.59 2.59 0 1 0 5.19 0a2.59 2.59 0 1 0 -5.19 0M336.13 317.57m-2.6 0a2.6 2.6 0 1 0 5.19 0a2.6 2.6 0 1 0 -5.19 0M336.93 317.23m-2.6 0a2.6 2.6 0 1 0 5.2 0a2.6 2.6 0 1 0 -5.2 0M337.42 317.52m-2.61 0a2.61 2.61 0 1 0 5.21 0a2.61 2.61 0 1 0 -5.21 0M338.27 317.29m-2.61 0a2.61 2.61 0 1 0 5.22 0a2.61 2.61 0 1 0 -5.22 0M338.86 317.22m-2.61 0a2.61 2.61 0 1 0 5.23 0a2.61 2.61 0 1 0 -5.23 0M339.73 317.1m-2.62 0a2.62 2.62 0 1 0 5.24 0a2.62 2.62 0 1 0 -5.24 0M340.49 317.45m-2.62 0a2.62 2.62 0 1 0 5.24 0a2.62 2.62 0 1 0 -5.24 0M340.95 316.9m-2.63 0a2.63 2.63 0 1 0 5.25 0a2.63 2.63 0 1 0 -5.25 0M341.83 317.39m-2.63 0a2.63 2.63 0 1 0 5.26 0a2.63 2.63 0 1 0 -5.26 0M342.55 316.95m-2.63 0a2.63 2.63 0 1 0 5.27 0a2.63 2.63 0 1 0 -5.27 0M343.25 317.17m-2.64 0a2.64 2.64 0 1 0 5.27 0a2.64 2.64 0 1 0 -5.27 0M344.04 317.15m-2.64 0a2.64 2.64 0 1 0 5.28 0a2.64 2.64 0 1 0 -5.28 0M344.73 317.27m-2.64 0a2.64 2.64 0 1 0 5.28 0a2.64 2.64 0 1 0 -5.28 0M345.6 316.92m-2.64 0a2.64 2.64 0 1 0 5.29 0a2.64 2.64 0 1 0 -5.29 0M346.04 316.85m-2.64 0a2.64 2.64 0 1 0 5.29 0a2.64 2.64 0 1 0 -5.29 0M346.76 317.23m-2.65 0a2.65 2.65 0 1 0 5.29 0a2.65 2.65 0 1 0 -5.29 0M347.68 316.76m-2.65 0a2.65 2.65 0 1 0 5.3 0a2.65 2.65 0 1 0 -5.3 0M348.5 317.26m-2.65 0a2.65 2.65 0 1 0 5.3 0a2.65 2.65 0 1 0 -5.3 0M349.16 316.65m-2.65 0a2.65 2.65 0 1 0 5.31 0a2.65 2.65 0 1 0 -5.31 0M349.8 317.17m-2.66 0a2.66 2.66 0 1 0 5.31 0a2.66 2.66 0 1 0 -5.31 0M350.44 316.63m-2.66 0a2.66 2.66 0 1 0 5.32 0a2.66 2.66 0 1 0 -5.32 0M351.26 316.82m-2.66 0a2.66 2.66 0 1 0 5.32 0a2.66 2.66 0 1 0 -5.32 0M351.91 317.19m-2.66 0a2.66 2.66 0 1 0 5.32 0a2.66 2.66 0 1 0 -5.32 0M352.67 316.99m-2.66 0a2.66 2.66 0 1 0 5.33 0a2.66 2.66 0 1 0 -5.33 0M353.16 316.64m-2.67 0a2.67 2.67 0 1 0 5.33 0a2.67 2.67 0 1 0 -5.33 0M353.97 316.5m-2.67 0a2.67 2.67 0 1 0 5.34 0a2.67 2.67 0 1 0 -5.34 0M354.73 316.7m-2.67 0a2.67 2.67 0 1 0 5.34 0a2.67 2.67 0 1 0 -5.34 0M355.72 316.68m-2.67 0a2.67 2.67 0 1 0 5.35 0a2.67 2.67 0 1 0 -5.35 0M356.03 317.05m-2.68 0a2.68 2.68 0 1 0 5.35 0a2.68 2.68 0 1 0 -5.35 0M356.83 316.55m-2.68 0a2.68 2.68 0 1 0 5.35 0a2.68 2.68 0 1 0 -5.35 0M357.6 316.46m-2.68 0a2.68 2.68 0 1 0 5.36 0a2.68 2.68 0 1 0 -5.36 0M358.29 316.85m-2.68 0a2.68 2.68 0 1 0 5.36 0a2.68 2.68 0 1 0 -5.36 0M359 316.92m-2.68 0a2.68 2.68 0 1 0 5.37 0a2.68 2.68 0 1 0 -5.37 0M359.65 316.93m-2.69 0a2.69 2.69 0 1 0 5.37 0a2.69 2.69 0 1 0 -5.37 0M360.39 316.75m-2.69 0a2.69 2.69 0 1 0 5.38 0a2.69 2.69 0 1 0 -5.38 0M361.22 316.52m-2.69 0a2.69 2.69 0 1 0 5.38 0a2.69 2.69 0 1 0 -5.38 0M362.05 316.35m-2.69 0a2.69 2.69 0 1 0 5.39 0a2.69 2.69 0 1 0 -5.39 0M362.92 316.9m-2.69 0a2.69 2.69 0 1 0 5.39 0a2.69 2.69 0 1 0 -5.39 0M363.27 316.92m-2.7 0a2.7 2.7 0 1 0 5.39 0a2.7 2.7 0 1 0 -5.39 0M364.28 316.68m-2.7 0a2.7 2.7 0 1 0 5.4 0a2.7 2.7 0 1 0 -5.4 0M365 316.7m-2.71 0a2.71 2.71 0 1 0 5.42 0a2.71 2.71 0 1 0 -5.42 0M365.59 316.24m-2.72 0a2.72 2.72 0 1 0 5.45 0a2.72 2.72 0 1 0 -5.45 0M366.37 316m-2.74 0a2.74 2.74 0 1 0 5.48 0a2.74 2.74 0 1 0 -5.48 0M367.22 316.4m-2.75 0a2.75 2.75 0 1 0 5.51 0a2.75 2.75 0 1 0 -5.51 0M367.76 316.03m-2.77 0a2.77 2.77 0 1 0 5.53 0a2.77 2.77 0 1 0 -5.53 0M368.6 316m-2.78 0a2.78 2.78 0 1 0 5.56 0a2.78 2.78 0 1 0 -5.56 0M369.46 316.15m-2.8 0a2.8 2.8 0 1 0 5.59 0a2.8 2.8 0 1 0 -5.59 0M369.96 316.11m-2.81 0a2.81 2.81 0 1 0 5.62 0a2.81 2.81 0 1 0 -5.62 0M370.29 315.88m-2.82 0a2.82 2.82 0 1 0 5.65 0a2.82 2.82 0 1 0 -5.65 0M371.57 315.81m-2.84 0a2.84 2.84 0 1 0 5.68 0a2.84 2.84 0 1 0 -5.68 0M372.42 315.62m-2.85 0a2.85 2.85 0 1 0 5.71 0a2.85 2.85 0 1 0 -5.71 0M372.46 314.71m-2.87 0a2.87 2.87 0 1 0 5.75 0a2.87 2.87 0 1 0 -5.75 0M373.63 315.72m-2.9 0a2.9 2.9 0 1 0 5.8 0a2.9 2.9 0 1 0 -5.8 0M374.12 314.83m-2.9 0a2.9 2.9 0 1 0 5.8 0a2.9 2.9 0 1 0 -5.8 0M374.52 313.98m-2.9 0a2.9 2.9 0 1 0 5.8 0a2.9 2.9 0 1 0 -5.8 0M375.7 314.11m-2.9 0a2.9 2.9 0 1 0 5.8 0a2.9 2.9 0 1 0 -5.8 0M376.14 314.25m-2.9 0a2.9 2.9 0 1 0 5.8 0a2.9 2.9 0 1 0 -5.8 0M376.64 314.88m-2.9 0a2.9 2.9 0 1 0 5.8 0a2.9 2.9 0 1 0 -5.8 0M378.28 313.18m-2.9 0a2.9 2.9 0 1 0 5.8 0a2.9 2.9 0 1 0 -5.8 0M378.58 314.2m-2.9 0a2.9 2.9 0 1 0 5.8 0a2.9 2.9 0 1 0 -5.8 0M379.24 314.15m-2.9 0a2.9 2.9 0 1 0 5.8 0a2.9 2.9 0 1 0 -5.8 0M380.44 312.8m-2.9 0a2.9 2.9 0 1 0 5.8 0a2.9 2.9 0 1 0 -5.8 0M381.05 312.58m-2.9 0a2.9 2.9 0 1 0 5.8 0a2.9 2.9 0 1 0 -5.8 0M381.64 312.72m-2.9 0a2.9 2.9 0 1 0 5.8 0a2.9 2.9 0 1 0 -5.8 0M382.67 311.41m-2.9 0a2.9 2.9 0 1 0 5.8 0a2.9 2.9 0 1 0 -5.8 0M383.49 311.53m-2.9 0a2.9 2.9 0 1 0 5.8 0a2.9 2.9 0 1 0 -5.8 0M382.91 311.97m-2.9 0a2.9 2.9 0 1 0 5.8 0a2.9 2.9 0 1 0 -5.8 0M383.86 311.5m-2.9 0a2.9 2.9 0 1 0 5.8 0a2.9 2.9 0 1 0 -5.8 0M384.78 311.24m-2.9 0a2.9 2.9 0 1 0 5.8 0a2.9 2.9 0 1 0 -5.8 0M386.04 310.78m-2.9 0a2.9 2.9 0 1 0 5.8 0a2.9 2.9 0 1 0 -5.8 0M385.92 310.06m-2.9 0a2.9 2.9 0 1 0 5.8 0a2.9 2.9 0 1 0 -5.8 0M387.17 310.85m-2.9 0a2.9 2.9 0 1 0 5.8 0a2.9 2.9 0 1 0 -5.8 0M387.31 308.43m-2.9 0a2.9 2.9 0 1 0 5.8 0a2.9 2.9 0 1 0 -5.8 0M388.61 308.92m-2.9 0a2.9 2.9 0 1 0 5.8 0a2.9 2.9 0 1 0 -5.8 0M389.03 307.65m-2.9 0a2.9 2.9 0 1 0 5.8 0a2.9 2.9 0 1 0 -5.8 0M390.47 308.12m-2.9 0a2.9 2.9 0 1 0 5.8 0a2.9 2.9 0 1 0 -5.8 0M390.86 305.38m-2.9 0a2.9 2.9 0 1 0 5.8 0a2.9 2.9 0 1 0 -5.8 0M390.89 304.57m-2.9 0a2.9 2.9 0 1 0 5.8 0a2.9 2.9 0 1 0 -5.8 0M391.91 301.88m-2.9 0a2.9 2.9 0 1 0 5.8 0a2.9 2.9 0 1 0 -5.8 0M392.96 301.91m-2.9 0a2.9 2.9 0 1 0 5.8 0a2.9 2.9 0 1 0 -5.8 0M394.41 297.84m-2.9 0a2.9 2.9 0 1 0 5.8 0a2.9 2.9 0 1 0 -5.8 0M395.01 295.58m-2.9 0a2.9 2.9 0 1 0 5.8 0a2.9 2.9 0 1 0 -5.8 0M394.47 289.35m-2.9 0a2.9 2.9 0 1 0 5.8 0a2.9 2.9 0 1 0 -5.8 0M396.2 284.85m-2.9 0a2.9 2.9 0 1 0 5.8 0a2.9 2.9 0 1 0 -5.8 0M396.34 279.66m-2.9 0a2.9 2.9 0 1 0 5.8 0a2.9 2.9 0 1 0 -5.8 0M397.47 272.86m-2.9 0a2.9 2.9 0 1 0 5.8 0a2.9 2.9 0 1 0 -5.8 0M397.41 265.29m-2.9 0a2.9 2.9 0 1 0 5.8 0a2.9 2.9 0 1 0 -5.8 0M398.71 257.52m-2.9 0a2.9 2.9 0 1 0 5.8 0a2.9 2.9 0 1 0 -5.8 0M399.27 246.89m-2.9 0a2.9 2.9 0 1 0 5.8 0a2.9 2.9 0 1 0 -5.8 0M400.82 238.31m-2.9 0a2.9 2.9 0 1 0 5.8 0a2.9 2.9 0 1 0 -5.8 0M400.73 229.85m-2.9 0a2.9 2.9 0 1 0 5.8 0a2.9 2.9 0 1 0 -5.8 0M401.46 222.42m-2.9 0a2.9 2.9 0 1 0 5.8 0a2.9 2.9 0 1 0 -5.8 0M401.74 217.45m-2.9 0a2.9 2.9 0 1 0 5.8 0a2.9 2.9 0 1 0 -5.8 0M402.77 212.62m-2.9 0a2.9 2.9 0 1 0 5.8 0a2.9 2.9 0 1 0 -5.8 0M403.6 209.29m-2.9 0a2.9 2.9 0 1 0 5.8 0a2.9 2.9 0 1 0 -5.8 0M404.01 203.18m-2.9 0a2.9 2.9 0 1 0 5.8 0a2.9 2.9 0 1 0 -5.8 0M405.55 200.36m-2.9 0a2.9 2.9 0 1 0 5.8 0a2.9 2.9 0 1 0 -5.8 0M405.26 198.64m-2.9 0a2.9 2.9 0 1 0 5.8 0a2.9 2.9 0 1 0 -5.8 0M407.18 197.14m-2.9 0a2.9 2.9 0 1 0 5.8 0a2.9 2.9 0 1 0 -5.8 0M407.99 200.83m-2.9 0a2.9 2.9 0 1 0 5.8 0a2.9 2.9 0 1 0 -5.8 0M408.6 202.43m-2.9 0a2.9 2.9 0 1 0 5.8 0a2.9 2.9 0 1 0 -5.8 0M408.12 207.22m-2.9 0a2.9 2.9 0 1 0 5.8 0a2.9 2.9 0 1 0 -5.8 0M409.71 210.42m-2.9 0a2.9 2.9 0 1 0 5.8 0a2.9 2.9 0 1 0 -5.8 0M410.94 215.95m-2.9 0a2.9 2.9 0 1 0 5.8 0a2.9 2.9 0 1 0 -5.8 0M410.67 221.62m-2.9 0a2.9 2.9 0 1 0 5.8 0a2.9 2.9 0 1 0 -5.8 0M412.1 226.53m-2.9 0a2.9 2.9 0 1 0 5.8 0a2.9 2.9 0 1 0 -5.8 0M411.68 235.25m-2.9 0a2.9 2.9 0 1 0 5.8 0a2.9 2.9 0 1 0 -5.8 0M412.96 245.14m-2.9 0a2.9 2.9 0 1 0 5.8 0a2.9 2.9 0 1 0 -5.8 0M413.91 252.83m-2.9 0a2.9 2.9 0 1 0 5.8 0a2.9 2.9 0 1 0 -5.8 0M413.92 263.34m-2.9 0a2.9 2.9 0 1 0 5.8 0a2.9 2.9 0 1 0 -5.8 0M415.14 271.1m-2.9 0a2.9 2.9 0 1 0 5.8 0a2.9 2.9 0 1 0 -5.8 0M415.45 278.13m-2.9 0a2.9 2.9 0 1 0 5.8 0a2.9 2.9 0 1 0 -5.8 0M416.69 284.24m-2.9 0a2.9 2.9 0 1 0 5.8 0a2.9 2.9 0 1 0 -5.8 0M417.51 287.85m-2.9 0a2.9 2.9 0 1 0 5.8 0a2.9 2.9 0 1 0 -5.8 0M418.02 292.73m-2.9 0a2.9 2.9 0 1 0 5.8 0a2.9 2.9 0 1 0 -5.8 0M418.5 297.42m-2.9 0a2.9 2.9 0 1 0 5.8 0a2.9 2.9 0 1 0 -5.8 0M419.82 299.56m-2.9 0a2.9 2.9 0 1 0 5.8 0a2.9 2.9 0 1 0 -5.8 0M419.92 302.23m-2.9 0a2.9 2.9 0 1 0 5.8 0a2.9 2.9 0 1 0 -5.8 0M421.28 303.09m-2.9 0a2.9 2.9 0 1 0 5.8 0a2.9 2.9 0 1 0 -5.8 0M421.96 304.42m-2.9 0a2.9 2.9 0 1 0 5.8 0a2.9 2.9 0 1 0 -5.8 0M422.47 307.29m-2.9 0a2.9 2.9 0 1 0 5.8 0a2.9 2.9 0 1 0 -5.8 0M423.27 307.37m-2.9 0a2.9 2.9 0 1 0 5.8 0a2.9 2.9 0 1 0 -5.8 0M423.66 308.79m-2.9 0a2.9 2.9 0 1 0 5.8 0a2.9 2.9 0 1 0 -5.8 0M424.52 308.98m-2.9 0a2.9 2.9 0 1 0 5.8 0a2.9 2.9 0 1 0 -5.8 0M424.97 308.77m-2.9 0a2.9 2.9 0 1 0 5.8 0a2.9 2.9 0 1 0 -5.8 0M426.15 309.53m-2.9 0a2.9 2.9 0 1 0 5.8 0a2.9 2.9 0 1 0 -5.8 0M426.59 311.09m-2.9 0a2.9 2.9 0 1 0 5.8 0a2.9 2.9 0 1 0 -5.8 0M427.06 309.58m-2.9 0a2.9 2.9 0 1 0 5.8 0a2.9 2.9 0 1 0 -5.8 0M428.79 310.84m-2.9 0a2.9 2.9 0 1 0 5.8 0a2.9 2.9 0 1 0 -5.8 0M429.32 310.82m-2.9 0a2.9 2.9 0 1 0 5.8 0a2.9 2.9 0 1 0 -5.8 0M429.33 312.5m-2.9 0a2.9 2.9 0 1 0 5.8 0a2.9 2.9 0 1 0 -5.8 0M430.39 312.47m-2.9 0a2.9 2.9 0 1 0 5.8 0a2.9 2.9 0 1 0 -5.8 0M430.91 313.11m-2.9 0a2.9 2.9 0 1 0 5.8 0a2.9 2.9 0 1 0 -5.8 0M431.87 313.69m-2.9 0a2.9 2.9 0 1 0 5.8 0a2.9 2.9 0 1 0 -5.8 0M433.01 312.42m-2.9 0a2.9 2.9 0 1 0 5.8 0a2.9 2.9 0 1 0 -5.8 0M433.77 313.24m-2.9 0a2.9 2.9 0 1 0 5.8 0a2.9 2.9 0 1 0 -5.8 0M434.17 313.53m-2.9 0a2.9 2.9 0 1 0 5.8 0a2.9 2.9 0 1 0 -5.8 0M434.49 314.44m-2.9 0a2.9 2.9 0 1 0 5.8 0a2.9 2.9 0 1 0 -5.8 0M435.95 313.39m-2.9 0a2.9 2.9 0 1 0 5.8 0a2.9 2.9 0 1 0 -5.8 0M436.07 314.7m-2.9 0a2.9 2.9 0 1 0 5.8 0a2.9 2.9 0 1 0 -5.8 0M437.18 315.2m-2.9 0a2.9 2.9 0 1 0 5.8 0a2.9 2.9 0 1 0 -5.8 0M437.58 313.98m-2.9 0a2.9 2.9 0 1 0 5.8 0a2.9 2.9 0 1 0 -5.8 0M438.7 315.46m-2.9 0a2.9 2.9 0 1 0 5.8 0a2.9 2.9 0 1 0 -5.8 0M439.05 314.99m-2.9 0a2.9 2.9 0 1 0 5.8 0a2.9 2.9 0 1 0 -5.8 0M439.71 315.6m-2.88 0a2.88 2.88 0 1 0 5.77 0a2.88 2.88 0 1 0 -5.77 0M440.26 314.98m-2.86 0a2.86 2.86 0 1 0 5.72 0a2.86 2.86 0 1 0 -5.72 0M441.54 315.05m-2.84 0a2.84 2.84 0 1 0 5.69 0a2.84 2.84 0 1 0 -5.69 0M442.14 315.86m-2.83 0a2.83 2.83 0 1 0 5.66 0a2.83 2.83 0 1 0 -5.66 0M442.87 316.17m-2.82 0a2.82 2.82 0 1 0 5.63 0a2.82 2.82 0 1 0 -5.63 0M443.07 316.14m-2.8 0a2.8 2.8 0 1 0 5.6 0a2.8 2.8 0 1 0 -5.6 0M443.75 315.57m-2.79 0a2.79 2.79 0 1 0 5.57 0a2.79 2.79 0 1 0 -5.57 0M444.83 315.61m-2.77 0a2.77 2.77 0 1 0 5.54 0a2.77 2.77 0 1 0 -5.54 0M445.64 316.6m-2.76 0a2.76 2.76 0 1 0 5.52 0a2.76 2.76 0 1 0 -5.52 0M446.3 316.3m-2.74 0a2.74 2.74 0 1 0 5.49 0a2.74 2.74 0 1 0 -5.49 0M446.92 316.61m-2.73 0a2.73 2.73 0 1 0 5.46 0a2.73 2.73 0 1 0 -5.46 0M447.47 316.33m-2.71 0a2.71 2.71 0 1 0 5.43 0a2.71 2.71 0 1 0 -5.43 0M448.6 316.36m-2.7 0a2.7 2.7 0 1 0 5.4 0a2.7 2.7 0 1 0 -5.4 0M449 316.84m-2.7 0a2.7 2.7 0 1 0 5.4 0a2.7 2.7 0 1 0 -5.4 0M449.6 316.66m-2.7 0a2.7 2.7 0 1 0 5.39 0a2.7 2.7 0 1 0 -5.39 0M450.78 316.48m-2.69 0a2.69 2.69 0 1 0 5.39 0a2.69 2.69 0 1 0 -5.39 0M451.19 316.91m-2.69 0a2.69 2.69 0 1 0 5.38 0a2.69 2.69 0 1 0 -5.38 0M451.87 316.7m-2.69 0a2.69 2.69 0 1 0 5.38 0a2.69 2.69 0 1 0 -5.38 0M452.73 316.36m-2.69 0a2.69 2.69 0 1 0 5.37 0a2.69 2.69 0 1 0 -5.37 0M453.39 316.82m-2.68 0a2.68 2.68 0 1 0 5.37 0a2.68 2.68 0 1 0 -5.37 0M453.95 316.51m-2.68 0a2.68 2.68 0 1 0 5.37 0a2.68 2.68 0 1 0 -5.37 0M455.04 316.85m-2.68 0a2.68 2.68 0 1 0 5.36 0a2.68 2.68 0 1 0 -5.36 0M455.41 316.57m-2.68 0a2.68 2.68 0 1 0 5.36 0a2.68 2.68 0 1 0 -5.36 0M456.28 316.69m-2.68 0a2.68 2.68 0 1 0 5.35 0a2.68 2.68 0 1 0 -5.35 0M457.03 316.93m-2.67 0a2.67 2.67 0 1 0 5.35 0a2.67 2.67 0 1 0 -5.35 0M457.84 316.72m-2.67 0a2.67 2.67 0 1 0 5.34 0a2.67 2.67 0 1 0 -5.34 0"/>
<path fill="#ff0000" d="M492.92 318.09m-2.5 0a2.5 2.5 0 1 0 5 0a2.5 2.5 0 1 0 -5 0M493.64 318.08m-2.5 0a2.5 2.5 0 1 0 5.01 0a2.5 2.5 0 1 0 -5.01 0M494.36 318.06m-2.51 0a2.51 2.51 0 1 0 5.01 0a2.51 2.51 0 1 0 -5.01 0M495.08 318.04m-2.51 0a2.51 2.51 0 1 0 5.02 0a2.51 2.51 0 1 0 -5.02 0M495.8 318.02m-2.51 0a2.51 2.51 0 1 0 5.02 0a2.51 2.51 0 1 0 -5.02 0M496.52 318m-2.51 0a2.51 2.51 0 1 0 5.03 0a2.51 2.51 0 1 0 -5.03 0M497.24 317.98m-2.52 0a2.52 2.52 0 1 0 5.03 0a2.52 2.52 0 1 0 -5.03 0M497.96 317.96m-2.52 0a2.52 2.52 0 1 0 5.04 0a2.52 2.52 0 1 0 -5.04 0M498.68 317.93m-2.52 0a2.52 2.52 0 1 0 5.05 0a2.52 2.52 0 1 0 -5.05 0M499.4 317.9m-2.53 0a2.53 2.53 0 1 0 5.05 0a2.53 2.53 0 1 0 -5.05 0M500.12 317.87m-2.53 0a2.53 2.53 0 1 0 5.06 0a2.53 2.53 0 1 0 -5.06 0M500.84 317.84m-2.54 0a2.54 2.54 0 1 0 5.07 0a2.54 2.54 0 1 0 -5.07 0M501.56 317.8m-2.54 0a2.54 2.54 0 1 0 5.08 0a2.54 2.54 0 1 0 -5.08 0M502.28 317.76m-2.55 0a2.55 2.55 0 1 0 5.09 0a2.55 2.55 0 1 0 -5.09 0M503 317.71m-2.55 0a2.55 2.55 0 1 0 5.1 0a2.55 2.55 0 1 0 -5.1 0M503.72 317.66m-2.56 0a2.56 2.56 0 1 0 5.12 0a2.56 2.56 0 1 0 -5.12 0M504.44 317.6m-2.57 0a2.57 2.57 0 1 0 5.13 0a2.57 2.57 0 1 0 -5.13 0M505.16 317.54m-2.57 0a2.57 2.57 0 1 0 5.15 0a2.57 2.57 0 1 0 -5.15 0M505.88 317.48m-2.58 0a2.58 2.58 0 1 0 5.17 0a2.58 2.58 0 1 0 -5.17 0M506.6 317.4m-2.59 0a2.59 2.59 0 1 0 5.19 0a2.59 2.59 0 1 0 -5.19 0M507.32 317.32m-2.6 0a2.6 2.6 0 1 0 5.21 0a2.6 2.6 0 1 0 -5.21 0M508.04 317.23m-2.62 0a2.62 2.62 0 1 0 5.23 0a2.62 2.62 0 1 0 -5.23 0M508.76 317.14m-2.63 0a2.63 2.63 0 1 0 5.26 0a2.63 2.63 0 1 0 -5.26 0M509.48 317.03m-2.64 0a2.64 2.64 0 1 0 5.29 0a2.64 2.64 0 1 0 -5.29 0M510.2 316.92m-2.66 0a2.66 2.66 0 1 0 5.32 0a2.66 2.66 0 1 0 -5.32 0M510.92 316.79m-2.67 0a2.67 2.67 0 1 0 5.35 0a2.67 2.67 0 1 0 -5.35 0M511.64 316.66m-2.69 0a2.69 2.69 0 1 0 5.38 0a2.69 2.69 0 1 0 -5.38 0M512.36 316.51m-2.71 0a2.71 2.71 0 1 0 5.42 0a2.71 2.71 0 1 0 -5.42 0M513.08 316.35m-2.73 0a2.73 2.73 0 1 0 5.47 0a2.73 2.73 0 1 0 -5.47 0M513.8 316.19m-2.76 0a2.76 2.76 0 1 0 5.51 0a2.76 2.76 0 1 0 -5.51 0M514.52 316m-2.78 0a2.78 2.78 0 1 0 5.56 0a2.78 2.78 0 1 0 -5.56 0M515.24 315.81m-2.81 0a2.81 2.81 0 1 0 5.61 0a2.81 2.81 0 1 0 -5.61 0M515.96 315.6m-2.83 0a2.83 2.83 0 1 0 5.67 0a2.83 2.83 0 1 0 -5.67 0M516.68 315.38m-2.86 0a2.86 2.86 0 1 0 5.73 0a2.86 2.86 0 1 0 -5.73 0M517.4 315.14m-2.89 0a2.89 2.89 0 1 0 5.79 0a2.89 2.89 0 1 0 -5.79 0M518.12 314.89m-2.9 0a2.9 2.9 0 1 0 5.8 0a2.9 2.9 0 1 0 -5.8 0M518.84 314.63m-2.9 0a2.9 2.9 0 1 0 5.8 0a2.9 2.9 0 1 0 -5.8 0M519.56 314.35m-2.9 0a2.9 2.9 0 1 0 5.8 0a2.9 2.9 0 1 0 -5.8 0M520.28 314.06m-2.9 0a2.9 2.9 0 1 0 5.8 0a2.9 2.9 0 1 0 -5.8 0M521 313.75m-2.9 0a2.9 2.9 0 1 0 5.8 0a2.9 2.9 0 1 0 -5.8 0M521.72 313.44m-2.9 0a2.9 2.9 0 1 0 5.8 0a2.9 2.9 0 1 0 -5.8 0M522.44 313.11m-2.9 0a2.9 2.9 0 1 0 5.8 0a2.9 2.9 0 1 0 -5.8 0M523.16 312.76m-2.9 0a2.9 2.9 0 1 0 5.8 0a2.9 2.9 0 1 0 -5.8 0M523.88 312.41m-2.9 0a2.9 2.9 0 1 0 5.8 0a2.9 2.9 0 1 0 -5.8 0M524.6 312.05m-2.9 0a2.9 2.9 0 1 0 5.8 0a2.9 2.9 0 1 0 -5.8 0M525.32 311.68m-2.9 0a2.9 2.9 0 1 0 5.8 0a2.9 2.9 0 1 0 -5.8 0M526.04 311.3m-2.9 0a2.9 2.9 0 1 0 5.8 0a2.9 2.9 0 1 0 -5.8 0M526.76 310.92m-2.9 0a2.9 2.9 0 1 0 5.8 0a2.9 2.9 0 1 0 -5.8 0M527.48 310.53m-2.9 0a2.9 2.9 0 1 0 5.8 0a2.9 2.9 0 1 0 -5.8 0M528.2 310.14m-2.9 0a2.9 2.9 0 1 0 5.8 0a2.9 2.9 0 1 0 -5.8 0M528.92 309.75m-2.9 0a2.9 2.9 0 1 0 5.8 0a2.9 2.9 0 1 0 -5.8 0M529.64 309.36m-2.9 0a2.9 2.9 0 1 0 5.8 0a2.9 2.9 0 1 0 -5.8 0M530.36 308.98m-2.9 0a2.9 2.9 0 1 0 5.8 0a2.9 2.9 0 1 0 -5.8 0M531.08 308.6m-2.9 0a2.9 2.9 0 1 0 5.8 0a2.9 2.9 0 1 0 -5.8 0M531.8 308.24m-2.9 0a2.9 2.9 0 1 0 5.8 0a2.9 2.9 0 1 0 -5.8 0M532.52 307.88m-2.9 0a2.9 2.9 0 1 0 5.8 0a2.9 2.9 0 1 0 -5.8 0M533.24 307.55m-2.9 0a2.9 2.9 0 1 0 5.8 0a2.9 2.9 0 1 0 -5.8 0M533.96 307.23m-2.9 0a2.9 2.9 0 1 0 5.8 0a2.9 2.9 0 1 0 -5.8 0M534.68 306.93m-2.9 0a2.9 2.9 0 1 0 5.8 0a2.9 2.9 0 1 0 -5.8 0M535.4 306.66m-2.9 0a2.9 2.9 0 1 0 5.8 0a2.9 2.9 0 1 0 -5.8 0M536.12 306.42m-2.9 0a2.9 2.9 0 1 0 5.8 0a2.9 2.9 0 1 0 -5.8 0M536.84 306.21m-2.9 0a2.9 2.9 0 1 0 5.8 0a2.9 2.9 0 1 0 -5.8 0M537.56 306.03m-2.9 0a2.9 2.9 0 1 0 5.8 0a2.9 2.9 0 1 0 -5.8 0M538.28 305.89m-2.9 0a2.9 2.9 0 1 0 5.8 0a2.9 2.9 0 1 0 -5.8 0M539 305.79m-2.9 0a2.9 2.9 0 1 0 5.8 0a2.9 2.9 0 1 0 -5.8 0M539.72 305.72m-2.9 0a2.9 2.9 0 1 0 5.8 0a2.9 2.9 0 1 0 -5.8 0M540.44 305.7m-2.9 0a2.9 2.9 0 1 0 5.8 0a2.9 2.9 0 1 0 -5.8 0M541.16 305.72m-2.9 0a2.9 2.9 0 1 0 5.8 0a2.9 2.9 0 1 0 -5.8 0M541.88 305.77m-2.9 0a2.9 2.9 0 1 0 5.8 0a2.9 2.9 0 1 0 -5.8 0M542.6 305.87m-2.9 0a2.9 2.9 0 1 0 5.8 0a2.9 2.9 0 1 0 -5.8 0M543.32 306.01m-2.9 0a2.9 2.9 0 1 0 5.8 0a2.9 2.9 0 1 0 -5.8 0M544.04 306.18m-2.9 0a2.9 2.9 0 1 0 5.8 0a2.9 2.9 0 1 0 -5.8 0M544.76 306.38m-2.9 0a2.9 2.9 0 1 0 5.8 0a2.9 2.9 0 1 0 -5.8 0M545.48 306.62m-2.9 0a2.9 2.9 0 1 0 5.8 0a2.9 2.9 0 1 0 -5.8 0M546.2 306.89m-2.9 0a2.9 2.9 0 1 0 5.8 0a2.9 2.9 0 1 0 -5.8 0M546.92 307.18m-2.9 0a2.9 2.9 0 1 0 5.8 0a2.9 2.9 0 1 0 -5.8 0M547.64 307.49m-2.9 0a2.9 2.9 0 1 0 5.8 0a2.9 2.9 0 1 0 -5.8 0M548.36 307.83m-2.9 0a2.9 2.9 0 1 0 5.8 0a2.9 2.9 0 1 0 -5.8 0M549.08 308.18m-2.9 0a2.9 2.9 0 1 0 5.8 0a2.9 2.9 0 1 0 -5.8 0M549.8 308.54m-2.9 0a2.9 2.9 0 1 0 5.8 0a2.9 2.9 0 1 0 -5.8 0M550.52 308.91m-2.9 0a2.9 2.9 0 1 0 5.8 0a2.9 2.9 0 1 0 -5.8 0M551.24 309.3m-2.9 0a2.9 2.9 0 1 0 5.8 0a2.9 2.9 0 1 0 -5.8 0M551.96 309.68m-2.9 0a2.9 2.9 0 1 0 5.8 0a2.9 2.9 0 1 0 -5.8 0M552.68 310.07m-2.9 0a2.9 2.9 0 1 0 5.8 0a2.9 2.9 0 1 0 -5.8 0M553.4 310.46m-2.9 0a2.9 2.9 0 1 0 5.8 0a2.9 2.9 0 1 0 -5.8 0M554.12 310.85m-2.9 0a2.9 2.9 0 1 0 5.8 0a2.9 2.9 0 1 0 -5.8 0M554.84 311.24m-2.9 0a2.9 2.9 0 1 0 5.8 0a2.9 2.9 0 1 0 -5.8 0M555.56 311.62m-2.9 0a2.9 2.9 0 1 0 5.8 0a2.9 2.9 0 1 0 -5.8 0M556.28 311.99m-2.9 0a2.9 2.9 0 1 0 5.8 0a2.9 2.9 0 1 0 -5.8 0M557 312.35m-2.9 0a2.9 2.9 0 1 0 5.8 0a2.9 2.9 0 1 0 -5.8 0M557.72 312.71m-2.9 0a2.9 2.9 0 1 0 5.8 0a2.9 2.9 0 1 0 -5.8 0M558.44 313.05m-2.9 0a2.9 2.9 0 1 0 5.8 0a2.9 2.9 0 1 0 -5.8 0M559.16 313.38m-2.9 0a2.9 2.9 0 1 0 5.8 0a2.9 2.9 0 1 0 -5.8 0M559.88 313.7m-2.9 0a2.9 2.9 0 1 0 5.8 0a2.9 2.9 0 1 0 -5.8 0M560.6 314.01m-2.9 0a2.9 2.9 0 1 0 5.8 0a2.9 2.9 0 1 0 -5.8 0M561.32 314.3m-2.9 0a2.9 2.9 0 1 0 5.8 0a2.9 2.9 0 1 0 -5.8 0M562.04 314.58m-2.9 0a2.9 2.9 0 1 0 5.8 0a2.9 2.9 0 1 0 -5.8 0M562.76 314.85m-2.9 0a2.9 2.9 0 1 0 5.8 0a2.9 2.9 0 1 0 -5.8 0M563.48 315.1m-2.9 0a2.9 2.9 0 1 0 5.8 0a2.9 2.9 0 1 0 -5.8 0M564.2 315.34m-2.87 0a2.87 2.87 0 1 0 5.74 0a2.87 2.87 0 1 0 -5.74 0M564.92 315.56m-2.84 0a2.84 2.84 0 1 0 5.68 0a2.84 2.84 0 1 0 -5.68 0M565.64 315.77m-2.81 0a2.81 2.81 0 1 0 5.62 0a2.81 2.81 0 1 0 -5.62 0M566.36 315.97m-2.78 0a2.78 2.78 0 1 0 5.57 0a2.78 2.78 0 1 0 -5.57 0M567.08 316.16m-2.76 0a2.76 2.76 0 1 0 5.52 0a2.76 2.76 0 1 0 -5.52 0M567.8 316.33m-2.74 0a2.74 2.74 0 1 0 5.47 0a2.74 2.74 0 1 0 -5.47 0M568.52 316.49m-2.72 0a2.72 2.72 0 1 0 5.43 0a2.72 2.72 0 1 0 -5.43 0M569.24 316.63m-2.7 0a2.7 2.7 0 1 0 5.39 0a2.7 2.7 0 1 0 -5.39 0M569.96 316.77m-2.68 0a2.68 2.68 0 1 0 5.35 0a2.68 2.68 0 1 0 -5.35 0M570.68 316.9m-2.66 0a2.66 2.66 0 1 0 5.32 0a2.66 2.66 0 1 0 -5.32 0M571.4 317.01m-2.64 0a2.64 2.64 0 1 0 5.29 0a2.64 2.64 0 1 0 -5.29 0M572.12 317.12m-2.63 0a2.63 2.63 0 1 0 5.26 0a2.63 2.63 0 1 0 -5.26 0M572.84 317.22m-2.62 0a2.62 2.62 0 1 0 5.24 0a2.62 2.62 0 1 0 -5.24 0M573.56 317.31m-2.61 0a2.61 2.61 0 1 0 5.21 0a2.61 2.61 0 1 0 -5.21 0M574.28 317.39m-2.59 0a2.59 2.59 0 1 0 5.19 0a2.59 2.59 0 1 0 -5.19 0M575 317.46m-2.58 0a2.58 2.58 0 1 0 5.17 0a2.58 2.58 0 1 0 -5.17 0M575.72 317.53m-2.58 0a2.58 2.58 0 1 0 5.15 0a2.58 2.58 0 1 0 -5.15 0M576.44 317.59m-2.57 0a2.57 2.57 0 1 0 5.14 0a2.57 2.57 0 1 0 -5.14 0M577.16 317.65m-2.56 0a2.56 2.56 0 1 0 5.12 0a2.56 2.56 0 1 0 -5.12 0M577.88 317.7m-2.55 0a2.55 2.55 0 1 0 5.11 0a2.55 2.55 0 1 0 -5.11 0M578.6 317.75m-2.55 0a2.55 2.55 0 1 0 5.09 0a2.55 2.55 0 1 0 -5.09 0M579.32 317.79m-2.54 0a2.54 2.54 0 1 0 5.08 0a2.54 2.54 0 1 0 -5.08 0M580.04 317.83m-2.54 0a2.54 2.54 0 1 0 5.07 0a2.54 2.54 0 1 0 -5.07 0M580.76 317.86m-2.53 0a2.53 2.53 0 1 0 5.06 0a2.53 2.53 0 1 0 -5.06 0M581.48 317.9m-2.53 0a2.53 2.53 0 1 0 5.05 0a2.53 2.53 0 1 0 -5.05 0M582.2 317.93m-2.52 0a2.52 2.52 0 1 0 5.05 0a2.52 2.52 0 1 0 -5.05 0M582.92 317.95m-2.52 0a2.52 2.52 0 1 0 5.04 0a2.52 2.52 0 1 0 -5.04 0M583.64 317.98m-2.52 0a2.52 2.52 0 1 0 5.03 0a2.52 2.52 0 1 0 -5.03 0M584.36 318m-2.51 0a2.51 2.51 0 1 0 5.03 0a2.51 2.51 0 1 0 -5.03 0M585.08 318.02m-2.51 0a2.51 2.51 0 1 0 5.02 0a2.51 2.51 0 1 0 -5.02 0M585.8 318.04m-2.51 0a2.51 2.51 0 1 0 5.02 0a2.51 2.51 0 1 0 -5.02 0M586.52 318.06m-2.51 0a2.51 2.51 0 1 0 5.01 0a2.51 2.51 0 1 0 -5.01 0M587.24 318.07m-2.5 0a2.5 2.5 0 1 0 5.01 0a2.5 2.5 0 1 0 -5.01 0M587.96 318.09m-2.5 0a2.5 2.5 0 1 0 5 0a2.5 2.5 0 1 0 -5 0"/>
</g>
<line x1="453.3" y1="328.6" x2="462.3" y2="312.2" stroke="#000" stroke-width="1.8"/>
<text x="96.4" y="222.9" font-size="10.5" font-weight="normal" text-anchor="start" textLength="15.2" lengthAdjust="spacingAndGlyphs" fill="#222">(b)</text>
</g>
<g>
<clipPath id="cc"><rect x="79" y="349" width="512" height="130"/></clipPath>
<rect x="80" y="347" width="378" height="2" fill="#000"/>
<rect x="467.7" y="347" width="123.3" height="2" fill="#000"/>
<rect x="78" y="469" width="380" height="2" fill="#000"/>
<rect x="467" y="469" width="124" height="2" fill="#000"/>
<rect x="78" y="348" width="2" height="131" fill="#000"/>
<rect x="589" y="347" width="2" height="132" fill="#000"/>
<rect x="164" y="471" width="2" height="8" fill="#000"/>
<rect x="250" y="471" width="2" height="8" fill="#000"/>
<rect x="336" y="471" width="2" height="8" fill="#000"/>
<rect x="422" y="471" width="2" height="8" fill="#000"/>
<rect x="466" y="471" width="2" height="8" fill="#000"/>
<rect x="121" y="471" width="2" height="4" fill="#000"/>
<rect x="207" y="471" width="2" height="4" fill="#000"/>
<rect x="293" y="471" width="2" height="4" fill="#000"/>
<rect x="379" y="471" width="2" height="4" fill="#000"/>
<rect x="528" y="471" width="2" height="4" fill="#000"/>
<rect x="71" y="358" width="7" height="2" fill="#000"/>
<rect x="75" y="386" width="3" height="2" fill="#000"/>
<rect x="71" y="414" width="7" height="2" fill="#000"/>
<rect x="75" y="441" width="3" height="2" fill="#000"/>
<rect x="71" y="469" width="7" height="2" fill="#000"/>
<text x="65.8" y="363.9" font-size="16" font-weight="normal" text-anchor="end" textLength="21.6" lengthAdjust="spacingAndGlyphs">0.2</text>
<text x="65.8" y="419.4" font-size="16" font-weight="normal" text-anchor="end" textLength="21.6" lengthAdjust="spacingAndGlyphs">0.1</text>
<text x="65.8" y="474.9" font-size="16" font-weight="normal" text-anchor="end" textLength="21.6" lengthAdjust="spacingAndGlyphs">0.0</text>
<text x="78.6" y="490.6" font-size="13" font-weight="normal" text-anchor="middle" textLength="25.8" lengthAdjust="spacingAndGlyphs">-250</text>
<text x="164.6" y="490.6" font-size="13" font-weight="normal" text-anchor="middle" textLength="7" lengthAdjust="spacingAndGlyphs">0</text>
<text x="250.6" y="490.6" font-size="13" font-weight="normal" text-anchor="middle" textLength="21.3" lengthAdjust="spacingAndGlyphs">250</text>
<text x="336.6" y="490.6" font-size="13" font-weight="normal" text-anchor="middle" textLength="21.3" lengthAdjust="spacingAndGlyphs">500</text>
<text x="422.6" y="490.6" font-size="13" font-weight="normal" text-anchor="middle" textLength="21.3" lengthAdjust="spacingAndGlyphs">750</text>
<text x="466.1" y="490.6" font-size="13" font-weight="normal" text-anchor="middle" textLength="28.3" lengthAdjust="spacingAndGlyphs">1250</text>
<text x="589.6" y="490.6" font-size="13" font-weight="normal" text-anchor="middle" textLength="28.3" lengthAdjust="spacingAndGlyphs">1500</text>
<line x1="453.3" y1="356.3" x2="462.3" y2="339.9" stroke="#000" stroke-width="1.8"/>
<line x1="462.5" y1="356.3" x2="471.5" y2="339.9" stroke="#000" stroke-width="1.8"/>
<line x1="453.3" y1="478.6" x2="462.3" y2="462.2" stroke="#000" stroke-width="1.8"/>
<line x1="462.5" y1="478.6" x2="471.5" y2="462.2" stroke="#000" stroke-width="1.8"/>
<g clip-path="url(#cc)">
<polyline fill="none" stroke="#0000ff" stroke-width="1.15" points="157.5,330 157.5,331.12 157.5,333.38 157.5,336.75 157.5,341.25 157.44,345.81 157.31,350.44 157.12,355.12 156.88,359.88 156.62,365.47 156.38,371.91 156.12,379.19 155.88,387.31 155.64,394.69 155.41,401.31 155.2,407.19 155,412.31 154.81,417.07 154.62,421.46 154.44,425.47 154.26,429.12 154.04,432.78 153.76,436.44 153.44,440.11 153.06,443.79 152.7,447 152.35,449.75 152.01,452.04 151.69,453.86 151.32,455.51 150.92,456.97 150.49,458.25 150.01,459.35 149.47,460.36 148.86,461.27 148.18,462.09 147.43,462.81 146.68,463.46 145.94,464.02 145.21,464.5 144.49,464.9 143.61,465.31 142.57,465.74 141.38,466.17 140.02,466.63 138.51,467.03 136.84,467.39 135,467.71 133,467.99 131.5,468.19 130.5,468.33 130,468.4"/>
<polyline fill="none" stroke="#0000ff" stroke-width="1.15" points="173.5,330 173.5,331.12 173.5,333.38 173.5,336.75 173.5,341.25 173.56,346.56 173.69,352.69 173.88,359.62 174.12,367.38 174.38,375.06 174.62,382.69 174.88,390.25 175.12,397.75 175.33,404.06 175.49,409.19 175.61,413.12 175.69,415.88 175.78,418.85 175.88,422.05 175.99,425.47 176.11,429.12 176.3,432.78 176.55,436.44 176.86,440.11 177.24,443.79 177.61,447 177.99,449.75 178.36,452.04 178.74,453.86 179.16,455.51 179.62,456.97 180.12,458.25 180.67,459.35 181.22,460.36 181.78,461.27 182.33,462.09 182.88,462.81 183.49,463.49 184.18,464.11 184.94,464.69 185.76,465.21 186.69,465.73 187.73,466.24 188.88,466.75 190.12,467.25 191.06,467.62 191.69,467.88 192,468"/>
<polyline fill="none" stroke="#0000ff" stroke-width="1.1" points="340,468.8 340.5,468.8 341,468.8 341.5,468.8 342,468.8 342.5,468.8 343,468.8 343.5,468.8 344,468.8 344.5,468.8 345,468.8 345.5,468.8 346,468.8 346.5,468.8 347,468.8 347.5,468.8 348,468.8 348.5,468.8 349,468.8 349.5,468.8 350,468.8 350.5,468.8 351,468.8 351.5,468.8 352,468.8 352.5,468.8 353,468.8 353.5,468.8 354,468.8 354.5,468.8 355,468.8 355.5,468.8 356,468.8 356.5,468.8 357,468.8 357.5,468.78 358,468.75 358.5,468.73 359,468.7 359.5,468.68 360,468.66 360.5,468.63 361,468.61 361.5,468.58 362,468.56 362.5,468.53 363,468.5 363.5,468.46 364,468.41 364.5,468.36 365,468.31 365.5,468.26 366,468.21 366.5,468.16 367,468.11 367.5,468.06 368,468.01 368.5,467.97 369,467.93 369.5,467.89 370,467.85 370.5,467.81 371,467.77 371.5,467.73 372,467.69 372.5,467.65 373,467.61 373.5,467.56 374,467.51 374.5,467.46 375,467.41 375.5,467.36 376,467.31 376.5,467.26 377,467.21 377.5,467.16 378,467.11 378.5,467.06 379,467.01 379.5,466.86 380,466.69 380.5,466.52 381,466.35 381.5,466.18 382,466.01 382.5,465.83 383,465.68 383.5,465.52 384,465.36 384.5,465.21 385,465.05 385.5,464.89 386,464.7 386.5,464.47 387,464.23 387.5,463.99 388,463.75 388.5,463.45 389,463.13 389.5,462.81 390,462.49 390.5,462.08 391,461.52 391.5,460.97 392,460.41 392.5,459.86 393,459.3 393.5,458.3 394,457.3 394.5,456.22 395,454.79 395.5,453.37 396,451.5 396.5,449.33 397,447.17 397.5,444.35 398,441.1 398.5,436.9 399,432.07 399.5,426.77 400,421.09 400.5,415.09 401,408.51 401.5,400.33 402,392.83 402.5,386.28 403,380.65 403.5,373.42 404,366.02 404.5,360.75 405,356.5 405.5,353.45 406,350.41 406.5,348.8 407,347.55 407.5,348.3 408,349.55 408.5,352.24 409,355.28 409.5,359.05 410,363.3 410.5,370.1 411,378.4 411.5,384.02 412,390.11 412.5,396.9 413,405.48 413.5,412.46 414,418.74 414.5,424.6 415,430.02 415.5,434.97 416,439.8 416.5,443.05 417,446.3 417.5,448.47 418,450.63 418.5,452.8 419,454.22 419.5,455.65 420,456.9 420.5,457.9 421,458.9 421.5,459.63 422,460.19 422.5,460.74 423,461.3 423.5,461.86 424,462.36 424.5,462.68 425,463 425.5,463.32 426,463.64 426.5,463.89 427,464.13 427.5,464.37 428,464.61 428.5,464.83 429,464.99 429.5,465.14 430,465.3 430.5,465.46 431,465.61 431.5,465.77 432,465.94 432.5,466.11 433,466.28 433.5,466.45 434,466.62 434.5,466.79 435,466.97 435.5,467.04 436,467.09 436.5,467.14 437,467.19 437.5,467.24 438,467.29 438.5,467.34 439,467.39 439.5,467.44 440,467.49 440.5,467.54 441,467.59 441.5,467.63 442,467.67 442.5,467.71 443,467.75 443.5,467.79 444,467.83 444.5,467.87 445,467.91 445.5,467.95 446,467.99 446.5,468.04 447,468.09 447.5,468.14 448,468.19 448.5,468.24 449,468.29 449.5,468.34 450,468.39 450.5,468.44 451,468.49 451.5,468.52 452,468.55 452.5,468.57 453,468.6 453.5,468.62 454,468.65 454.5,468.67 455,468.69 455.5,468.72 456,468.75 456.5,468.77 457,468.8 457.5,468.8"/>
<g shape-rendering="crispEdges">
<rect x="79.3" y="467" width="59.7" height="4" fill="#ff0000"/>
<rect x="196" y="467" width="186.75" height="4" fill="#ff0000"/>
<rect x="431.75" y="467" width="26.45" height="4" fill="#ff0000"/>
<rect x="466.8" y="467" width="57.25" height="4" fill="#ff0000"/>
<rect x="563.55" y="467" width="27.05" height="4" fill="#ff0000"/>
</g>
<path stroke="#ff0000" stroke-width="1" shape-rendering="crispEdges" d="M96 466.5h1M573 466.5h1M353 466.5h1M580 466.5h1M90 466.5h1M96 466.5h1"/>
<path fill="#ff0000" d="M155.8 449.5m-2.9 0a2.9 2.9 0 1 0 5.8 0a2.9 2.9 0 1 0 -5.8 0M155.71 450.4m-2.9 0a2.9 2.9 0 1 0 5.8 0a2.9 2.9 0 1 0 -5.8 0M155.63 451.29m-2.9 0a2.9 2.9 0 1 0 5.8 0a2.9 2.9 0 1 0 -5.8 0M155.54 452.19m-2.9 0a2.9 2.9 0 1 0 5.8 0a2.9 2.9 0 1 0 -5.8 0M155.44 453.08m-2.9 0a2.9 2.9 0 1 0 5.8 0a2.9 2.9 0 1 0 -5.8 0M155.33 453.98m-2.9 0a2.9 2.9 0 1 0 5.8 0a2.9 2.9 0 1 0 -5.8 0M155.21 454.87m-2.9 0a2.9 2.9 0 1 0 5.8 0a2.9 2.9 0 1 0 -5.8 0M155.08 455.76m-2.9 0a2.9 2.9 0 1 0 5.8 0a2.9 2.9 0 1 0 -5.8 0M154.93 456.64m-2.9 0a2.9 2.9 0 1 0 5.8 0a2.9 2.9 0 1 0 -5.8 0M154.76 457.53m-2.9 0a2.9 2.9 0 1 0 5.8 0a2.9 2.9 0 1 0 -5.8 0M154.58 458.41m-2.9 0a2.9 2.9 0 1 0 5.8 0a2.9 2.9 0 1 0 -5.8 0M154.39 459.29m-2.9 0a2.9 2.9 0 1 0 5.8 0a2.9 2.9 0 1 0 -5.8 0M154.18 460.16m-2.9 0a2.9 2.9 0 1 0 5.8 0a2.9 2.9 0 1 0 -5.8 0M153.93 461.03m-2.9 0a2.9 2.9 0 1 0 5.8 0a2.9 2.9 0 1 0 -5.8 0M153.64 461.88m-2.9 0a2.9 2.9 0 1 0 5.8 0a2.9 2.9 0 1 0 -5.8 0M153.3 462.72m-2.9 0a2.9 2.9 0 1 0 5.8 0a2.9 2.9 0 1 0 -5.8 0M152.89 463.51m-2.9 0a2.9 2.9 0 1 0 5.8 0a2.9 2.9 0 1 0 -5.8 0M152.4 464.27m-2.9 0a2.9 2.9 0 1 0 5.8 0a2.9 2.9 0 1 0 -5.8 0M151.82 464.96m-2.9 0a2.9 2.9 0 1 0 5.8 0a2.9 2.9 0 1 0 -5.8 0M151.2 465.61m-2.9 0a2.9 2.9 0 1 0 5.79 0a2.9 2.9 0 1 0 -5.79 0M150.52 466.2m-2.72 0a2.72 2.72 0 1 0 5.44 0a2.72 2.72 0 1 0 -5.44 0M149.79 466.73m-2.56 0a2.56 2.56 0 1 0 5.12 0a2.56 2.56 0 1 0 -5.12 0M149.02 467.19m-2.42 0a2.42 2.42 0 1 0 4.85 0a2.42 2.42 0 1 0 -4.85 0M148.2 467.56m-2.31 0a2.31 2.31 0 1 0 4.62 0a2.31 2.31 0 1 0 -4.62 0M147.35 467.84m-2.23 0a2.23 2.23 0 1 0 4.45 0a2.23 2.23 0 1 0 -4.45 0M146.48 468.07m-2.16 0a2.16 2.16 0 1 0 4.32 0a2.16 2.16 0 1 0 -4.32 0M145.6 468.26m-2.1 0a2.1 2.1 0 1 0 4.2 0a2.1 2.1 0 1 0 -4.2 0M144.71 468.41m-2.06 0a2.06 2.06 0 1 0 4.11 0a2.06 2.06 0 1 0 -4.11 0M143.82 468.54m-2.02 0a2.02 2.02 0 1 0 4.04 0a2.02 2.02 0 1 0 -4.04 0M142.93 468.64m-2 0a2 2 0 1 0 4 0a2 2 0 1 0 -4 0M142.03 468.72m-2 0a2 2 0 1 0 4 0a2 2 0 1 0 -4 0M141.13 468.79m-2 0a2 2 0 1 0 4 0a2 2 0 1 0 -4 0M140.24 468.85m-2 0a2 2 0 1 0 4 0a2 2 0 1 0 -4 0M139.34 468.91m-2 0a2 2 0 1 0 4 0a2 2 0 1 0 -4 0M138.44 468.97m-2 0a2 2 0 1 0 4 0a2 2 0 1 0 -4 0"/>
<path fill="#ff0000" d="M176.7 451m-2.9 0a2.9 2.9 0 1 0 5.8 0a2.9 2.9 0 1 0 -5.8 0M176.79 451.9m-2.9 0a2.9 2.9 0 1 0 5.8 0a2.9 2.9 0 1 0 -5.8 0M176.87 452.79m-2.9 0a2.9 2.9 0 1 0 5.8 0a2.9 2.9 0 1 0 -5.8 0M176.97 453.69m-2.9 0a2.9 2.9 0 1 0 5.8 0a2.9 2.9 0 1 0 -5.8 0M177.08 454.58m-2.9 0a2.9 2.9 0 1 0 5.8 0a2.9 2.9 0 1 0 -5.8 0M177.21 455.47m-2.9 0a2.9 2.9 0 1 0 5.8 0a2.9 2.9 0 1 0 -5.8 0M177.38 456.35m-2.9 0a2.9 2.9 0 1 0 5.8 0a2.9 2.9 0 1 0 -5.8 0M177.58 457.23m-2.9 0a2.9 2.9 0 1 0 5.8 0a2.9 2.9 0 1 0 -5.8 0M177.79 458.11m-2.9 0a2.9 2.9 0 1 0 5.8 0a2.9 2.9 0 1 0 -5.8 0M178 458.98m-2.9 0a2.9 2.9 0 1 0 5.8 0a2.9 2.9 0 1 0 -5.8 0M178.21 459.86m-2.9 0a2.9 2.9 0 1 0 5.8 0a2.9 2.9 0 1 0 -5.8 0M178.47 460.72m-2.9 0a2.9 2.9 0 1 0 5.8 0a2.9 2.9 0 1 0 -5.8 0M178.79 461.56m-2.9 0a2.9 2.9 0 1 0 5.8 0a2.9 2.9 0 1 0 -5.8 0M179.19 462.37m-2.9 0a2.9 2.9 0 1 0 5.8 0a2.9 2.9 0 1 0 -5.8 0M179.64 463.14m-2.9 0a2.9 2.9 0 1 0 5.8 0a2.9 2.9 0 1 0 -5.8 0M180.16 463.88m-2.9 0a2.9 2.9 0 1 0 5.8 0a2.9 2.9 0 1 0 -5.8 0M180.75 464.55m-2.9 0a2.9 2.9 0 1 0 5.8 0a2.9 2.9 0 1 0 -5.8 0M181.42 465.15m-2.9 0a2.9 2.9 0 1 0 5.8 0a2.9 2.9 0 1 0 -5.8 0M182.15 465.68m-2.88 0a2.88 2.88 0 1 0 5.75 0a2.88 2.88 0 1 0 -5.75 0M182.92 466.15m-2.74 0a2.74 2.74 0 1 0 5.47 0a2.74 2.74 0 1 0 -5.47 0M183.72 466.56m-2.61 0a2.61 2.61 0 1 0 5.23 0a2.61 2.61 0 1 0 -5.23 0M184.55 466.92m-2.5 0a2.5 2.5 0 1 0 5.01 0a2.5 2.5 0 1 0 -5.01 0M185.39 467.24m-2.41 0a2.41 2.41 0 1 0 4.81 0a2.41 2.41 0 1 0 -4.81 0M186.24 467.53m-2.32 0a2.32 2.32 0 1 0 4.64 0a2.32 2.32 0 1 0 -4.64 0M187.11 467.77m-2.25 0a2.25 2.25 0 1 0 4.5 0a2.25 2.25 0 1 0 -4.5 0M187.98 467.98m-2.19 0a2.19 2.19 0 1 0 4.37 0a2.19 2.19 0 1 0 -4.37 0M188.86 468.17m-2.13 0a2.13 2.13 0 1 0 4.26 0a2.13 2.13 0 1 0 -4.26 0M189.75 468.34m-2.08 0a2.08 2.08 0 1 0 4.16 0a2.08 2.08 0 1 0 -4.16 0M190.64 468.48m-2.04 0a2.04 2.04 0 1 0 4.07 0a2.04 2.04 0 1 0 -4.07 0M191.53 468.58m-2 0a2 2 0 1 0 4.01 0a2 2 0 1 0 -4.01 0M192.42 468.67m-2 0a2 2 0 1 0 4 0a2 2 0 1 0 -4 0M193.32 468.75m-2 0a2 2 0 1 0 4 0a2 2 0 1 0 -4 0M194.22 468.81m-2 0a2 2 0 1 0 4 0a2 2 0 1 0 -4 0M195.12 468.87m-2 0a2 2 0 1 0 4 0a2 2 0 1 0 -4 0M196.01 468.93m-2 0a2 2 0 1 0 4 0a2 2 0 1 0 -4 0M196.91 468.99m-2 0a2 2 0 1 0 4 0a2 2 0 1 0 -4 0"/>
<path fill="#ff0000" d="M158.8 359.4m-2.9 0a2.9 2.9 0 1 0 5.8 0a2.9 2.9 0 1 0 -5.8 0M158.1 393.7m-2.9 0a2.9 2.9 0 1 0 5.8 0a2.9 2.9 0 1 0 -5.8 0M157.5 418m-2.9 0a2.9 2.9 0 1 0 5.8 0a2.9 2.9 0 1 0 -5.8 0M156.9 433.6m-2.9 0a2.9 2.9 0 1 0 5.8 0a2.9 2.9 0 1 0 -5.8 0M156.2 445m-2.9 0a2.9 2.9 0 1 0 5.8 0a2.9 2.9 0 1 0 -5.8 0M172.8 361m-2.9 0a2.9 2.9 0 1 0 5.8 0a2.9 2.9 0 1 0 -5.8 0M173.8 390m-2.9 0a2.9 2.9 0 1 0 5.8 0a2.9 2.9 0 1 0 -5.8 0M174.3 412.8m-2.9 0a2.9 2.9 0 1 0 5.8 0a2.9 2.9 0 1 0 -5.8 0M174.9 426.1m-2.9 0a2.9 2.9 0 1 0 5.8 0a2.9 2.9 0 1 0 -5.8 0M175.6 438.6m-2.9 0a2.9 2.9 0 1 0 5.8 0a2.9 2.9 0 1 0 -5.8 0M176.3 447m-2.9 0a2.9 2.9 0 1 0 5.8 0a2.9 2.9 0 1 0 -5.8 0"/>
<path fill="#ff0000" d="M364.12 468.57m-2 0a2 2 0 1 0 4 0a2 2 0 1 0 -4 0M364.87 468.55m-2.02 0a2.02 2.02 0 1 0 4.05 0a2.02 2.02 0 1 0 -4.05 0M365.54 468.47m-2.04 0a2.04 2.04 0 1 0 4.09 0a2.04 2.04 0 1 0 -4.09 0M366.28 468.37m-2.07 0a2.07 2.07 0 1 0 4.13 0a2.07 2.07 0 1 0 -4.13 0M367 468.26m-2.09 0a2.09 2.09 0 1 0 4.17 0a2.09 2.09 0 1 0 -4.17 0M367.69 468.2m-2.11 0a2.11 2.11 0 1 0 4.22 0a2.11 2.11 0 1 0 -4.22 0M368.44 468.25m-2.13 0a2.13 2.13 0 1 0 4.26 0a2.13 2.13 0 1 0 -4.26 0M369.13 468.2m-2.15 0a2.15 2.15 0 1 0 4.29 0a2.15 2.15 0 1 0 -4.29 0M369.86 468.03m-2.16 0a2.16 2.16 0 1 0 4.33 0a2.16 2.16 0 1 0 -4.33 0M370.65 468.06m-2.18 0a2.18 2.18 0 1 0 4.36 0a2.18 2.18 0 1 0 -4.36 0M371.32 467.85m-2.2 0a2.2 2.2 0 1 0 4.4 0a2.2 2.2 0 1 0 -4.4 0M372.05 467.86m-2.21 0a2.21 2.21 0 1 0 4.43 0a2.21 2.21 0 1 0 -4.43 0M372.83 467.75m-2.23 0a2.23 2.23 0 1 0 4.46 0a2.23 2.23 0 1 0 -4.46 0M373.47 467.86m-2.25 0a2.25 2.25 0 1 0 4.5 0a2.25 2.25 0 1 0 -4.5 0M374.14 467.67m-2.27 0a2.27 2.27 0 1 0 4.55 0a2.27 2.27 0 1 0 -4.55 0M374.98 467.69m-2.29 0a2.29 2.29 0 1 0 4.59 0a2.29 2.29 0 1 0 -4.59 0M375.57 467.41m-2.32 0a2.32 2.32 0 1 0 4.63 0a2.32 2.32 0 1 0 -4.63 0M376.29 467.6m-2.34 0a2.34 2.34 0 1 0 4.68 0a2.34 2.34 0 1 0 -4.68 0M377.04 467.48m-2.36 0a2.36 2.36 0 1 0 4.72 0a2.36 2.36 0 1 0 -4.72 0M377.89 467.28m-2.38 0a2.38 2.38 0 1 0 4.76 0a2.38 2.38 0 1 0 -4.76 0M378.48 467.42m-2.4 0a2.4 2.4 0 1 0 4.81 0a2.4 2.4 0 1 0 -4.81 0M379.28 467.06m-2.44 0a2.44 2.44 0 1 0 4.87 0a2.44 2.44 0 1 0 -4.87 0M380.02 466.82m-2.51 0a2.51 2.51 0 1 0 5.02 0a2.51 2.51 0 1 0 -5.02 0M380.63 466.42m-2.58 0a2.58 2.58 0 1 0 5.17 0a2.58 2.58 0 1 0 -5.17 0M381.49 466.62m-2.66 0a2.66 2.66 0 1 0 5.32 0a2.66 2.66 0 1 0 -5.32 0M382.17 466.41m-2.73 0a2.73 2.73 0 1 0 5.46 0a2.73 2.73 0 1 0 -5.46 0M382.68 465.76m-2.8 0a2.8 2.8 0 1 0 5.61 0a2.8 2.8 0 1 0 -5.61 0M383.56 466m-2.87 0a2.87 2.87 0 1 0 5.74 0a2.87 2.87 0 1 0 -5.74 0M384.48 465.39m-2.9 0a2.9 2.9 0 1 0 5.8 0a2.9 2.9 0 1 0 -5.8 0M384.9 465.19m-2.9 0a2.9 2.9 0 1 0 5.8 0a2.9 2.9 0 1 0 -5.8 0M385.73 465.36m-2.9 0a2.9 2.9 0 1 0 5.8 0a2.9 2.9 0 1 0 -5.8 0M386.29 464.95m-2.9 0a2.9 2.9 0 1 0 5.8 0a2.9 2.9 0 1 0 -5.8 0M387.3 464.65m-2.9 0a2.9 2.9 0 1 0 5.8 0a2.9 2.9 0 1 0 -5.8 0M388.05 464.11m-2.9 0a2.9 2.9 0 1 0 5.8 0a2.9 2.9 0 1 0 -5.8 0M388.5 463.38m-2.9 0a2.9 2.9 0 1 0 5.8 0a2.9 2.9 0 1 0 -5.8 0M389.24 463.45m-2.9 0a2.9 2.9 0 1 0 5.8 0a2.9 2.9 0 1 0 -5.8 0M389.76 462.3m-2.9 0a2.9 2.9 0 1 0 5.8 0a2.9 2.9 0 1 0 -5.8 0M390.95 461.67m-2.9 0a2.9 2.9 0 1 0 5.8 0a2.9 2.9 0 1 0 -5.8 0M391.19 460.62m-2.9 0a2.9 2.9 0 1 0 5.8 0a2.9 2.9 0 1 0 -5.8 0M392.25 460.17m-2.9 0a2.9 2.9 0 1 0 5.8 0a2.9 2.9 0 1 0 -5.8 0M393.27 460.04m-2.9 0a2.9 2.9 0 1 0 5.8 0a2.9 2.9 0 1 0 -5.8 0M393.99 457.92m-2.9 0a2.9 2.9 0 1 0 5.8 0a2.9 2.9 0 1 0 -5.8 0M394.08 456.28m-2.9 0a2.9 2.9 0 1 0 5.8 0a2.9 2.9 0 1 0 -5.8 0M395.09 454.99m-2.9 0a2.9 2.9 0 1 0 5.8 0a2.9 2.9 0 1 0 -5.8 0M395.77 452.2m-2.9 0a2.9 2.9 0 1 0 5.8 0a2.9 2.9 0 1 0 -5.8 0M396.47 449.55m-2.9 0a2.9 2.9 0 1 0 5.8 0a2.9 2.9 0 1 0 -5.8 0M397.37 446.47m-2.9 0a2.9 2.9 0 1 0 5.8 0a2.9 2.9 0 1 0 -5.8 0M398.21 441.69m-2.9 0a2.9 2.9 0 1 0 5.8 0a2.9 2.9 0 1 0 -5.8 0M398.42 435.67m-2.9 0a2.9 2.9 0 1 0 5.8 0a2.9 2.9 0 1 0 -5.8 0M399.27 428.02m-2.9 0a2.9 2.9 0 1 0 5.8 0a2.9 2.9 0 1 0 -5.8 0M400.04 420.05m-2.9 0a2.9 2.9 0 1 0 5.8 0a2.9 2.9 0 1 0 -5.8 0M400.64 410.38m-2.9 0a2.9 2.9 0 1 0 5.8 0a2.9 2.9 0 1 0 -5.8 0M401.39 398.92m-2.9 0a2.9 2.9 0 1 0 5.8 0a2.9 2.9 0 1 0 -5.8 0M402.56 389.19m-2.9 0a2.9 2.9 0 1 0 5.8 0a2.9 2.9 0 1 0 -5.8 0M402.89 380.61m-2.9 0a2.9 2.9 0 1 0 5.8 0a2.9 2.9 0 1 0 -5.8 0M404.07 369.9m-2.9 0a2.9 2.9 0 1 0 5.8 0a2.9 2.9 0 1 0 -5.8 0M404.26 361.75m-2.9 0a2.9 2.9 0 1 0 5.8 0a2.9 2.9 0 1 0 -5.8 0M405.28 356.25m-2.9 0a2.9 2.9 0 1 0 5.8 0a2.9 2.9 0 1 0 -5.8 0M405.61 351.25m-2.9 0a2.9 2.9 0 1 0 5.8 0a2.9 2.9 0 1 0 -5.8 0M406.83 349.13m-2.9 0a2.9 2.9 0 1 0 5.8 0a2.9 2.9 0 1 0 -5.8 0M407.62 347.52m-2.9 0a2.9 2.9 0 1 0 5.8 0a2.9 2.9 0 1 0 -5.8 0M407.91 349.42m-2.9 0a2.9 2.9 0 1 0 5.8 0a2.9 2.9 0 1 0 -5.8 0M408.55 354.65m-2.9 0a2.9 2.9 0 1 0 5.8 0a2.9 2.9 0 1 0 -5.8 0M409.55 359.68m-2.9 0a2.9 2.9 0 1 0 5.8 0a2.9 2.9 0 1 0 -5.8 0M410.12 366.8m-2.9 0a2.9 2.9 0 1 0 5.8 0a2.9 2.9 0 1 0 -5.8 0M410.89 377.15m-2.9 0a2.9 2.9 0 1 0 5.8 0a2.9 2.9 0 1 0 -5.8 0M411.84 386.45m-2.9 0a2.9 2.9 0 1 0 5.8 0a2.9 2.9 0 1 0 -5.8 0M412.09 395.45m-2.9 0a2.9 2.9 0 1 0 5.8 0a2.9 2.9 0 1 0 -5.8 0M413.17 406.89m-2.9 0a2.9 2.9 0 1 0 5.8 0a2.9 2.9 0 1 0 -5.8 0M413.72 416.29m-2.9 0a2.9 2.9 0 1 0 5.8 0a2.9 2.9 0 1 0 -5.8 0M414.32 424.83m-2.9 0a2.9 2.9 0 1 0 5.8 0a2.9 2.9 0 1 0 -5.8 0M415.32 432.93m-2.9 0a2.9 2.9 0 1 0 5.8 0a2.9 2.9 0 1 0 -5.8 0M415.76 439.12m-2.9 0a2.9 2.9 0 1 0 5.8 0a2.9 2.9 0 1 0 -5.8 0M416.57 444.7m-2.9 0a2.9 2.9 0 1 0 5.8 0a2.9 2.9 0 1 0 -5.8 0M417.19 448.05m-2.9 0a2.9 2.9 0 1 0 5.8 0a2.9 2.9 0 1 0 -5.8 0M417.92 451.75m-2.9 0a2.9 2.9 0 1 0 5.8 0a2.9 2.9 0 1 0 -5.8 0M418.88 453.47m-2.9 0a2.9 2.9 0 1 0 5.8 0a2.9 2.9 0 1 0 -5.8 0M419.29 455.92m-2.9 0a2.9 2.9 0 1 0 5.8 0a2.9 2.9 0 1 0 -5.8 0M420.33 457.85m-2.9 0a2.9 2.9 0 1 0 5.8 0a2.9 2.9 0 1 0 -5.8 0M420.72 458.72m-2.9 0a2.9 2.9 0 1 0 5.8 0a2.9 2.9 0 1 0 -5.8 0M421.87 459.98m-2.9 0a2.9 2.9 0 1 0 5.8 0a2.9 2.9 0 1 0 -5.8 0M422.3 460.66m-2.9 0a2.9 2.9 0 1 0 5.8 0a2.9 2.9 0 1 0 -5.8 0M423.49 461.46m-2.9 0a2.9 2.9 0 1 0 5.8 0a2.9 2.9 0 1 0 -5.8 0M423.94 462.32m-2.9 0a2.9 2.9 0 1 0 5.8 0a2.9 2.9 0 1 0 -5.8 0M424.55 463.39m-2.9 0a2.9 2.9 0 1 0 5.8 0a2.9 2.9 0 1 0 -5.8 0M425.65 463.26m-2.9 0a2.9 2.9 0 1 0 5.8 0a2.9 2.9 0 1 0 -5.8 0M425.87 464.1m-2.9 0a2.9 2.9 0 1 0 5.8 0a2.9 2.9 0 1 0 -5.8 0M426.6 463.75m-2.9 0a2.9 2.9 0 1 0 5.8 0a2.9 2.9 0 1 0 -5.8 0M427.7 464.5m-2.9 0a2.9 2.9 0 1 0 5.8 0a2.9 2.9 0 1 0 -5.8 0M428.36 464.83m-2.9 0a2.9 2.9 0 1 0 5.8 0a2.9 2.9 0 1 0 -5.8 0M429.1 465.14m-2.9 0a2.9 2.9 0 1 0 5.8 0a2.9 2.9 0 1 0 -5.8 0M429.51 465.04m-2.9 0a2.9 2.9 0 1 0 5.8 0a2.9 2.9 0 1 0 -5.8 0M430.39 465.71m-2.9 0a2.9 2.9 0 1 0 5.79 0a2.9 2.9 0 1 0 -5.79 0M431.24 465.58m-2.83 0a2.83 2.83 0 1 0 5.66 0a2.83 2.83 0 1 0 -5.66 0M431.85 466m-2.76 0a2.76 2.76 0 1 0 5.52 0a2.76 2.76 0 1 0 -5.52 0M432.53 466.13m-2.68 0a2.68 2.68 0 1 0 5.37 0a2.68 2.68 0 1 0 -5.37 0M433.19 466.58m-2.61 0a2.61 2.61 0 1 0 5.22 0a2.61 2.61 0 1 0 -5.22 0M434.08 466.64m-2.54 0a2.54 2.54 0 1 0 5.07 0a2.54 2.54 0 1 0 -5.07 0M434.69 467.18m-2.46 0a2.46 2.46 0 1 0 4.92 0a2.46 2.46 0 1 0 -4.92 0M435.51 467.12m-2.41 0a2.41 2.41 0 1 0 4.82 0a2.41 2.41 0 1 0 -4.82 0M436.06 467.45m-2.39 0a2.39 2.39 0 1 0 4.78 0a2.39 2.39 0 1 0 -4.78 0M436.94 467.37m-2.37 0a2.37 2.37 0 1 0 4.73 0a2.37 2.37 0 1 0 -4.73 0M437.49 467.58m-2.35 0a2.35 2.35 0 1 0 4.69 0a2.35 2.35 0 1 0 -4.69 0M438.27 467.64m-2.32 0a2.32 2.32 0 1 0 4.65 0a2.32 2.32 0 1 0 -4.65 0M439.03 467.68m-2.3 0a2.3 2.3 0 1 0 4.61 0a2.3 2.3 0 1 0 -4.61 0M439.68 467.74m-2.28 0a2.28 2.28 0 1 0 4.56 0a2.28 2.28 0 1 0 -4.56 0M440.41 467.71m-2.26 0a2.26 2.26 0 1 0 4.52 0a2.26 2.26 0 1 0 -4.52 0M441.22 467.88m-2.24 0a2.24 2.24 0 1 0 4.48 0a2.24 2.24 0 1 0 -4.48 0M441.85 467.8m-2.22 0a2.22 2.22 0 1 0 4.44 0a2.22 2.22 0 1 0 -4.44 0M442.6 467.92m-2.2 0a2.2 2.2 0 1 0 4.41 0a2.2 2.2 0 1 0 -4.41 0M443.32 467.9m-2.19 0a2.19 2.19 0 1 0 4.37 0a2.19 2.19 0 1 0 -4.37 0M444.02 468.08m-2.17 0a2.17 2.17 0 1 0 4.34 0a2.17 2.17 0 1 0 -4.34 0M444.81 468.01m-2.15 0a2.15 2.15 0 1 0 4.3 0a2.15 2.15 0 1 0 -4.3 0M445.5 468.19m-2.13 0a2.13 2.13 0 1 0 4.27 0a2.13 2.13 0 1 0 -4.27 0M446.17 468.26m-2.12 0a2.12 2.12 0 1 0 4.23 0a2.12 2.12 0 1 0 -4.23 0M446.9 468.3m-2.1 0a2.1 2.1 0 1 0 4.19 0a2.1 2.1 0 1 0 -4.19 0M447.65 468.37m-2.07 0a2.07 2.07 0 1 0 4.15 0a2.07 2.07 0 1 0 -4.15 0M448.36 468.42m-2.05 0a2.05 2.05 0 1 0 4.1 0a2.05 2.05 0 1 0 -4.1 0M449.09 468.49m-2.03 0a2.03 2.03 0 1 0 4.06 0a2.03 2.03 0 1 0 -4.06 0M449.82 468.57m-2.01 0a2.01 2.01 0 1 0 4.02 0a2.01 2.01 0 1 0 -4.02 0"/>
<path fill="#ff0000" d="M518.84 468.51m-2.03 0a2.03 2.03 0 1 0 4.05 0a2.03 2.03 0 1 0 -4.05 0M519.56 468.41m-2.06 0a2.06 2.06 0 1 0 4.12 0a2.06 2.06 0 1 0 -4.12 0M520.28 468.23m-2.11 0a2.11 2.11 0 1 0 4.22 0a2.11 2.11 0 1 0 -4.22 0M521 468.05m-2.17 0a2.17 2.17 0 1 0 4.33 0a2.17 2.17 0 1 0 -4.33 0M521.72 467.87m-2.22 0a2.22 2.22 0 1 0 4.44 0a2.22 2.22 0 1 0 -4.44 0M522.44 467.69m-2.27 0a2.27 2.27 0 1 0 4.55 0a2.27 2.27 0 1 0 -4.55 0M523.16 467.51m-2.33 0a2.33 2.33 0 1 0 4.65 0a2.33 2.33 0 1 0 -4.65 0M523.88 467.29m-2.39 0a2.39 2.39 0 1 0 4.78 0a2.39 2.39 0 1 0 -4.78 0M524.6 467.02m-2.47 0a2.47 2.47 0 1 0 4.95 0a2.47 2.47 0 1 0 -4.95 0M525.32 466.75m-2.56 0a2.56 2.56 0 1 0 5.11 0a2.56 2.56 0 1 0 -5.11 0M526.04 466.47m-2.64 0a2.64 2.64 0 1 0 5.28 0a2.64 2.64 0 1 0 -5.28 0M526.76 466.2m-2.72 0a2.72 2.72 0 1 0 5.44 0a2.72 2.72 0 1 0 -5.44 0M527.48 465.93m-2.8 0a2.8 2.8 0 1 0 5.6 0a2.8 2.8 0 1 0 -5.6 0M528.2 465.65m-2.88 0a2.88 2.88 0 1 0 5.77 0a2.88 2.88 0 1 0 -5.77 0M528.92 465.33m-2.9 0a2.9 2.9 0 1 0 5.8 0a2.9 2.9 0 1 0 -5.8 0M529.64 464.96m-2.9 0a2.9 2.9 0 1 0 5.8 0a2.9 2.9 0 1 0 -5.8 0M530.36 464.58m-2.9 0a2.9 2.9 0 1 0 5.8 0a2.9 2.9 0 1 0 -5.8 0M531.08 464.21m-2.9 0a2.9 2.9 0 1 0 5.8 0a2.9 2.9 0 1 0 -5.8 0M531.8 463.84m-2.9 0a2.9 2.9 0 1 0 5.8 0a2.9 2.9 0 1 0 -5.8 0M532.52 463.46m-2.9 0a2.9 2.9 0 1 0 5.8 0a2.9 2.9 0 1 0 -5.8 0M533.24 463.09m-2.9 0a2.9 2.9 0 1 0 5.8 0a2.9 2.9 0 1 0 -5.8 0M533.96 462.7m-2.9 0a2.9 2.9 0 1 0 5.8 0a2.9 2.9 0 1 0 -5.8 0M534.68 462.3m-2.9 0a2.9 2.9 0 1 0 5.8 0a2.9 2.9 0 1 0 -5.8 0M535.4 461.89m-2.9 0a2.9 2.9 0 1 0 5.8 0a2.9 2.9 0 1 0 -5.8 0M536.12 461.49m-2.9 0a2.9 2.9 0 1 0 5.8 0a2.9 2.9 0 1 0 -5.8 0M536.84 461.09m-2.9 0a2.9 2.9 0 1 0 5.8 0a2.9 2.9 0 1 0 -5.8 0M537.56 460.68m-2.9 0a2.9 2.9 0 1 0 5.8 0a2.9 2.9 0 1 0 -5.8 0M538.28 460.28m-2.9 0a2.9 2.9 0 1 0 5.8 0a2.9 2.9 0 1 0 -5.8 0M539 459.86m-2.9 0a2.9 2.9 0 1 0 5.8 0a2.9 2.9 0 1 0 -5.8 0M539.72 459.43m-2.9 0a2.9 2.9 0 1 0 5.8 0a2.9 2.9 0 1 0 -5.8 0M540.44 459m-2.9 0a2.9 2.9 0 1 0 5.8 0a2.9 2.9 0 1 0 -5.8 0M541.16 458.56m-2.9 0a2.9 2.9 0 1 0 5.8 0a2.9 2.9 0 1 0 -5.8 0M541.88 458.13m-2.9 0a2.9 2.9 0 1 0 5.8 0a2.9 2.9 0 1 0 -5.8 0M542.6 457.87m-2.9 0a2.9 2.9 0 1 0 5.8 0a2.9 2.9 0 1 0 -5.8 0M543.32 457.67m-2.9 0a2.9 2.9 0 1 0 5.8 0a2.9 2.9 0 1 0 -5.8 0M544.04 457.72m-2.9 0a2.9 2.9 0 1 0 5.8 0a2.9 2.9 0 1 0 -5.8 0M544.76 457.91m-2.9 0a2.9 2.9 0 1 0 5.8 0a2.9 2.9 0 1 0 -5.8 0M545.48 458.23m-2.9 0a2.9 2.9 0 1 0 5.8 0a2.9 2.9 0 1 0 -5.8 0M546.2 458.66m-2.9 0a2.9 2.9 0 1 0 5.8 0a2.9 2.9 0 1 0 -5.8 0M546.92 459.09m-2.9 0a2.9 2.9 0 1 0 5.8 0a2.9 2.9 0 1 0 -5.8 0M547.64 459.52m-2.9 0a2.9 2.9 0 1 0 5.8 0a2.9 2.9 0 1 0 -5.8 0M548.36 459.96m-2.9 0a2.9 2.9 0 1 0 5.8 0a2.9 2.9 0 1 0 -5.8 0M549.08 460.37m-2.9 0a2.9 2.9 0 1 0 5.8 0a2.9 2.9 0 1 0 -5.8 0M549.8 460.77m-2.9 0a2.9 2.9 0 1 0 5.8 0a2.9 2.9 0 1 0 -5.8 0M550.52 461.18m-2.9 0a2.9 2.9 0 1 0 5.8 0a2.9 2.9 0 1 0 -5.8 0M551.24 461.58m-2.9 0a2.9 2.9 0 1 0 5.8 0a2.9 2.9 0 1 0 -5.8 0M551.96 461.98m-2.9 0a2.9 2.9 0 1 0 5.8 0a2.9 2.9 0 1 0 -5.8 0M552.68 462.38m-2.9 0a2.9 2.9 0 1 0 5.8 0a2.9 2.9 0 1 0 -5.8 0M553.4 462.79m-2.9 0a2.9 2.9 0 1 0 5.8 0a2.9 2.9 0 1 0 -5.8 0M554.12 463.17m-2.9 0a2.9 2.9 0 1 0 5.8 0a2.9 2.9 0 1 0 -5.8 0M554.84 463.54m-2.9 0a2.9 2.9 0 1 0 5.8 0a2.9 2.9 0 1 0 -5.8 0M555.56 463.92m-2.9 0a2.9 2.9 0 1 0 5.8 0a2.9 2.9 0 1 0 -5.8 0M556.28 464.29m-2.9 0a2.9 2.9 0 1 0 5.8 0a2.9 2.9 0 1 0 -5.8 0M557 464.67m-2.9 0a2.9 2.9 0 1 0 5.8 0a2.9 2.9 0 1 0 -5.8 0M557.72 465.04m-2.9 0a2.9 2.9 0 1 0 5.8 0a2.9 2.9 0 1 0 -5.8 0M558.44 465.42m-2.9 0a2.9 2.9 0 1 0 5.8 0a2.9 2.9 0 1 0 -5.8 0M559.16 465.71m-2.87 0a2.87 2.87 0 1 0 5.73 0a2.87 2.87 0 1 0 -5.73 0M559.88 465.99m-2.78 0a2.78 2.78 0 1 0 5.57 0a2.78 2.78 0 1 0 -5.57 0M560.6 466.26m-2.7 0a2.7 2.7 0 1 0 5.4 0a2.7 2.7 0 1 0 -5.4 0M561.32 466.53m-2.62 0a2.62 2.62 0 1 0 5.24 0a2.62 2.62 0 1 0 -5.24 0M562.04 466.81m-2.54 0a2.54 2.54 0 1 0 5.08 0a2.54 2.54 0 1 0 -5.08 0M562.76 467.08m-2.46 0a2.46 2.46 0 1 0 4.91 0a2.46 2.46 0 1 0 -4.91 0M563.48 467.35m-2.37 0a2.37 2.37 0 1 0 4.75 0a2.37 2.37 0 1 0 -4.75 0M564.2 467.55m-2.31 0a2.31 2.31 0 1 0 4.63 0a2.31 2.31 0 1 0 -4.63 0M564.92 467.73m-2.26 0a2.26 2.26 0 1 0 4.52 0a2.26 2.26 0 1 0 -4.52 0M565.64 467.91m-2.21 0a2.21 2.21 0 1 0 4.41 0a2.21 2.21 0 1 0 -4.41 0M566.36 468.09m-2.15 0a2.15 2.15 0 1 0 4.31 0a2.15 2.15 0 1 0 -4.31 0M567.08 468.27m-2.1 0a2.1 2.1 0 1 0 4.2 0a2.1 2.1 0 1 0 -4.2 0M567.8 468.43m-2.05 0a2.05 2.05 0 1 0 4.1 0a2.05 2.05 0 1 0 -4.1 0M568.52 468.54m-2.02 0a2.02 2.02 0 1 0 4.04 0a2.02 2.02 0 1 0 -4.04 0"/>
</g>
<line x1="453.3" y1="478.6" x2="462.3" y2="462.2" stroke="#000" stroke-width="1.8"/>
<text x="96.4" y="370.1" font-size="10.5" font-weight="normal" text-anchor="start" textLength="15.2" lengthAdjust="spacingAndGlyphs" fill="#222">(c)</text>
</g>
<rect x="211.5" y="80.5" width="134" height="68" fill="none" stroke="#000" stroke-width="1" shape-rendering="crispEdges"/>
<path stroke="#ff0000" stroke-width="1" fill="none" shape-rendering="crispEdges" d="M211.5 148V145.43M214.5 148V146.05M216.5 148V144.63M219.5 148V144.63M222.5 148V144.85M224.5 148V143.46M227.5 148V143.04M230.5 148V143.25M232.5 148V143.32M235.5 148V142.17M238.5 148V142.26M240.5 148V141.5M243.5 148V140.09M246.5 148V139.88M249.5 148V138.19M251.5 148V136.97M254.5 148V136.73M257.5 148V134.28M259.5 148V134.05M262.5 148V131.34M265.5 148V129.79M267.5 148V128.85M270.5 148V128.29M273.5 148V125.97M275.5 148V124.88M278.5 148V122.53M281.5 148V123.15M283.5 148V120.94M286.5 148V120.18M289.5 148V120.53M291.5 148V120.51M294.5 148V120.71M297.5 148V119.86M299.5 148V121.79M302.5 148V122M305.5 148V123.34M307.5 148V126.18M310.5 148V126.3M313.5 148V127.39M316.5 148V130.46M318.5 148V131.18M321.5 148V131.59M324.5 148V133.92M326.5 148V133.49M329.5 148V135.69M332.5 148V135.48M334.5 148V137.59M337.5 148V137.55M340.5 148V137.31M342.5 148V139.24M345.5 148V139.58"/>
<path stroke="#ff0000" stroke-width="1" fill="none" shape-rendering="crispEdges" d="M211.5 145.5h2M212 146.5h2M214 145.5h2M217 145.5h2M220 145.5h2M222 143.5h2M225 143.5h2M228 143.5h2M230 143.5h2M233 142.5h2M236 142.5h2M238 142.5h2M241 140.5h2M244 140.5h2M247 138.5h2M249 137.5h2M252 137.5h2M255 134.5h2M257 134.5h2M260 131.5h2M263 130.5h2M265 129.5h2M268 128.5h2M271 126.5h2M273 125.5h2M276 123.5h2M279 123.5h2M281 121.5h2M284 120.5h2M287 121.5h2M289 121.5h2M292 121.5h2M295 120.5h2M297 122.5h2M300 122.5h2M303 123.5h2M305 126.5h2M308 126.5h2M311 127.5h2M314 130.5h2M316 131.5h2M319 132.5h2M322 134.5h2M324 133.5h2M327 136.5h2M330 135.5h2M332 138.5h2M335 138.5h2M338 137.5h2M340 139.5h2M343 140.5h2"/>
<polyline fill="none" stroke="#0000ff" stroke-width="1.2" points="211,145.01 212.5,144.89 214,144.77 215.5,144.65 217,144.51 218.5,144.36 220,144.21 221.5,144.04 223,143.86 224.5,143.67 226,143.46 227.5,143.24 229,143 230.5,142.74 232,142.46 233.5,142.16 235,141.84 236.5,141.49 238,141.13 239.5,140.73 241,140.31 242.5,139.86 244,139.39 245.5,138.88 247,138.34 248.5,137.78 250,137.19 251.5,136.56 253,135.91 254.5,135.23 256,134.52 257.5,133.79 259,133.03 260.5,132.26 262,131.46 263.5,130.65 265,129.83 266.5,129 268,128.18 269.5,127.35 271,126.54 272.5,125.75 274,124.98 275.5,124.25 277,123.56 278.5,122.93 280,122.36 281.5,121.86 283,121.44 284.5,121.11 286,120.87 287.5,120.73 289,120.69 290.5,120.76 292,120.92 293.5,121.17 295,121.51 296.5,121.94 298,122.44 299.5,123 301,123.62 302.5,124.28 304,124.99 305.5,125.72 307,126.47 308.5,127.23 310,128 311.5,128.77 313,129.53 314.5,130.29 316,131.03 317.5,131.75 319,132.45 320.5,133.13 322,133.79 323.5,134.41 325,135.01 326.5,135.58 328,136.13 329.5,136.64 331,137.12 332.5,137.58 334,138 335.5,138.4 337,138.76 338.5,139.1 340,139.42 341.5,139.71 343,139.98 344.5,140.22"/>
<text x="216.6" y="95.9" font-size="9.5" font-weight="normal" text-anchor="start" textLength="22.8" lengthAdjust="spacingAndGlyphs">FK2</text>
<text x="211.2" y="157.3" font-size="7.3" font-weight="bold" text-anchor="middle" textLength="18.4" lengthAdjust="spacingAndGlyphs" fill="#1a1a2a">1350</text>
<text x="279.3" y="157.3" font-size="7.3" font-weight="bold" text-anchor="middle" textLength="18.4" lengthAdjust="spacingAndGlyphs" fill="#1a1a2a">1400</text>
<text x="344.8" y="157.3" font-size="7.3" font-weight="bold" text-anchor="middle" textLength="18.4" lengthAdjust="spacingAndGlyphs" fill="#1a1a2a">1450</text>
<rect x="204.5" y="223.5" width="134" height="68" fill="none" stroke="#000" stroke-width="1" shape-rendering="crispEdges"/>
<path stroke="#ff0000" stroke-width="1" fill="none" shape-rendering="crispEdges" d="M204.5 292V284.15M207.5 292V284.1M209.5 292V284.19M212.5 292V283.38M215.5 292V282.84M217.5 292V280.63M220.5 292V280.41M223.5 292V279.15M225.5 292V279.67M228.5 292V277.39M231.5 292V277.55M233.5 292V275.4M236.5 292V273.71M239.5 292V273.42M242.5 292V270.56M244.5 292V269.17M247.5 292V266.9M250.5 292V263.87M252.5 292V262.81M255.5 292V258.24M258.5 292V256.03M260.5 292V253.48M263.5 292V249.65M266.5 292V247.81M268.5 292V243.7M271.5 292V242.27M274.5 292V241.01M276.5 292V239.2M279.5 292V239.63M282.5 292V240.93M284.5 292V241.65M287.5 292V245.74M290.5 292V247.46M292.5 292V252.15M295.5 292V255M298.5 292V257.84M300.5 292V261.96M303.5 292V264.86M306.5 292V268.33M309.5 292V271.41M311.5 292V273.51M314.5 292V275.17M317.5 292V275.87M319.5 292V277.68M322.5 292V278.81M325.5 292V279.16M327.5 292V281.65M330.5 292V282.29M333.5 292V282.15M335.5 292V284.03M338.5 292V284.6"/>
<path stroke="#ff0000" stroke-width="1" fill="none" shape-rendering="crispEdges" d="M204.5 284.5h2M205 284.5h2M207 284.5h2M210 283.5h2M213 283.5h2M215 281.5h2M218 280.5h2M221 279.5h2M223 280.5h2M226 277.5h2M229 278.5h2M231 275.5h2M234 274.5h2M237 273.5h2M240 271.5h2M242 269.5h2M245 267.5h2M248 264.5h2M250 263.5h2M253 258.5h2M256 256.5h2M258 253.5h2M261 250.5h2M264 248.5h2M266 244.5h2M269 242.5h2M272 241.5h2M274 239.5h2M277 240.5h2M280 241.5h2M282 242.5h2M285 246.5h2M288 247.5h2M290 252.5h2M293 255.5h2M296 258.5h2M298 262.5h2M301 265.5h2M304 268.5h2M307 271.5h2M309 274.5h2M312 275.5h2M315 276.5h2M317 278.5h2M320 279.5h2M323 279.5h2M325 282.5h2M328 282.5h2M331 282.5h2M333 284.5h2M336 285.5h2"/>
<polyline fill="none" stroke="#0000ff" stroke-width="1.2" points="204,284.66 205.5,284.43 207,284.18 208.5,283.92 210,283.64 211.5,283.35 213,283.04 214.5,282.7 216,282.35 217.5,281.97 219,281.57 220.5,281.15 222,280.69 223.5,280.21 225,279.69 226.5,279.14 228,278.56 229.5,277.93 231,277.27 232.5,276.56 234,275.81 235.5,275.02 237,274.17 238.5,273.27 240,272.31 241.5,271.31 243,270.24 244.5,269.12 246,267.93 247.5,266.68 249,265.38 250.5,264.01 252,262.58 253.5,261.09 255,259.55 256.5,257.96 258,256.32 259.5,254.65 261,252.96 262.5,251.25 264,249.54 265.5,247.85 267,246.21 268.5,244.62 270,243.12 271.5,241.74 273,240.5 274.5,239.42 276,238.54 277.5,237.86 279,237.42 280.5,237.21 282,237.25 283.5,237.51 285,237.99 286.5,238.68 288,239.56 289.5,240.61 291,241.82 292.5,243.15 294,244.6 295.5,246.13 297,247.72 298.5,249.36 300,251.03 301.5,252.7 303,254.38 304.5,256.04 306,257.67 307.5,259.27 309,260.83 310.5,262.35 312,263.81 313.5,265.23 315,266.58 316.5,267.88 318,269.12 319.5,270.31 321,271.43 322.5,272.5 324,273.51 325.5,274.47 327,275.37 328.5,276.22 330,277.02 331.5,277.77 333,278.47 334.5,279.13 336,279.75 337.5,280.33"/>
<line x1="275.3" y1="228.5" x2="275.3" y2="238.4" stroke="#000" stroke-width="1.2"/>
<line x1="280.3" y1="223" x2="280.3" y2="235.8" stroke="#000" stroke-width="1.2"/>
<text x="213.4" y="241" font-size="11" font-weight="normal" text-anchor="start" textLength="21" lengthAdjust="spacingAndGlyphs">FK2</text>
<text x="204.2" y="301.1" font-size="7.3" font-weight="bold" text-anchor="middle" textLength="18.4" lengthAdjust="spacingAndGlyphs" fill="#1a1a2a">1350</text>
<text x="271.5" y="301.1" font-size="7.3" font-weight="bold" text-anchor="middle" textLength="18.4" lengthAdjust="spacingAndGlyphs" fill="#1a1a2a">1400</text>
<text x="337.8" y="301.1" font-size="7.3" font-weight="bold" text-anchor="middle" textLength="18.4" lengthAdjust="spacingAndGlyphs" fill="#1a1a2a">1450</text>
<rect x="207.5" y="374.5" width="134" height="68" fill="none" stroke="#000" stroke-width="1" shape-rendering="crispEdges"/>
<path stroke="#ff0000" stroke-width="1" fill="none" shape-rendering="crispEdges" d="M207.5 442V423.82M210.5 442V423.5M212.5 442V422.03M215.5 442V421.32M218.5 442V419.28M220.5 442V417.75M223.5 442V417M226.5 442V414.58M228.5 442V413.27M231.5 442V412.34M234.5 442V408.76M236.5 442V408.1M239.5 442V406.23M242.5 442V404.12M245.5 442V400.8M247.5 442V398.1M250.5 442V396.67M253.5 442V395.82M255.5 442V394.53M258.5 442V393.96M261.5 442V391.62M263.5 442V390.85M266.5 442V391M269.5 442V390.14M271.5 442V390.31M274.5 442V389.19M277.5 442V389.67M279.5 442V391.18M282.5 442V390.8M285.5 442V394.13M287.5 442V394.76M290.5 442V397.19M293.5 442V400.39M295.5 442V403.6M298.5 442V404.68M301.5 442V408.45M303.5 442V409.6M306.5 442V411.06M309.5 442V414.89M312.5 442V417.01M314.5 442V417.78M317.5 442V419.32M320.5 442V420.39M322.5 442V421.24M325.5 442V423.68M328.5 442V424.57M330.5 442V425.67M333.5 442V427.25M336.5 442V426.64M338.5 442V427.92M341.5 442V429.13"/>
<path stroke="#ff0000" stroke-width="1" fill="none" shape-rendering="crispEdges" d="M207.5 424.5h2M208 424.5h2M210 422.5h2M213 421.5h2M216 419.5h2M218 418.5h2M221 417.5h2M224 415.5h2M226 413.5h2M229 412.5h2M232 409.5h2M234 408.5h2M237 406.5h2M240 404.5h2M243 401.5h2M245 398.5h2M248 397.5h2M251 396.5h2M253 395.5h2M256 394.5h2M259 392.5h2M261 391.5h2M264 391.5h2M267 390.5h2M269 390.5h2M272 389.5h2M275 390.5h2M277 391.5h2M280 391.5h2M283 394.5h2M285 395.5h2M288 397.5h2M291 400.5h2M293 404.5h2M296 405.5h2M299 408.5h2M301 410.5h2M304 411.5h2M307 415.5h2M310 417.5h2M312 418.5h2M315 419.5h2M318 420.5h2M320 421.5h2M323 424.5h2M326 425.5h2M328 426.5h2M331 427.5h2M334 427.5h2M336 428.5h2M339 429.5h2"/>
<polyline fill="none" stroke="#0000ff" stroke-width="1.2" points="207,427.61 208.5,427.12 210,426.61 211.5,426.08 213,425.52 214.5,424.94 216,424.33 217.5,423.7 219,423.04 220.5,422.35 222,421.64 223.5,420.89 225,420.11 226.5,419.3 228,418.46 229.5,417.59 231,416.68 232.5,415.74 234,414.76 235.5,413.75 237,412.71 238.5,411.63 240,410.51 241.5,409.36 243,408.19 244.5,406.97 246,405.74 247.5,404.47 249,403.18 250.5,401.87 252,400.55 253.5,399.21 255,397.87 256.5,396.53 258,395.2 259.5,393.88 261,392.59 262.5,391.34 264,390.13 265.5,388.97 267,387.88 268.5,386.87 270,385.94 271.5,385.12 273,384.4 274.5,383.8 276,383.32 277.5,382.98 279,382.77 280.5,382.7 282,382.81 283.5,383.13 285,383.66 286.5,384.39 288,385.3 289.5,386.38 291,387.6 292.5,388.94 294,390.38 295.5,391.9 297,393.48 298.5,395.1 300,396.75 301.5,398.4 303,400.04 304.5,401.67 306,403.26 307.5,404.82 309,406.34 310.5,407.82 312,409.24 313.5,410.61 315,411.92 316.5,413.19 318,414.39 319.5,415.55 321,416.65 322.5,417.7 324,418.7 325.5,419.65 327,420.55 328.5,421.42 330,422.23 331.5,423.01 333,423.75 334.5,424.46 336,425.13 337.5,425.76 339,426.37 340.5,426.94"/>
<line x1="268.8" y1="377.2" x2="268.8" y2="391" stroke="#000" stroke-width="1.2"/>
<line x1="280.5" y1="374" x2="280.5" y2="380.6" stroke="#000" stroke-width="1.2"/>
<text x="212.2" y="392" font-size="10.1" font-weight="normal" text-anchor="start" textLength="20.8" lengthAdjust="spacingAndGlyphs">FK2</text>
<text x="207.2" y="451.4" font-size="7.3" font-weight="bold" text-anchor="middle" textLength="18.4" lengthAdjust="spacingAndGlyphs" fill="#1a1a2a">1350</text>
<text x="273.9" y="451.4" font-size="7.3" font-weight="bold" text-anchor="middle" textLength="18.4" lengthAdjust="spacingAndGlyphs" fill="#1a1a2a">1400</text>
<text x="340.1" y="451.4" font-size="7.3" font-weight="bold" text-anchor="middle" textLength="18.4" lengthAdjust="spacingAndGlyphs" fill="#1a1a2a">1450</text>
<text x="371.6" y="78.7" font-size="13.9" font-weight="bold" text-anchor="start" textLength="79" lengthAdjust="spacingAndGlyphs">FK1=704 cm</text>
<text x="451" y="71.5" font-size="14.4" font-weight="bold" text-anchor="start" textLength="10.3" lengthAdjust="spacingAndGlyphs">-1</text>
<text x="515.6" y="67.4" font-size="13.9" font-weight="bold" textLength="59.2" lengthAdjust="spacingAndGlyphs">E<tspan dy="4.4">0</tspan><tspan dy="-4.4">=40 eV</tspan></text>
<text x="515.6" y="228.5" font-size="13.9" font-weight="bold" textLength="59.2" lengthAdjust="spacingAndGlyphs">E<tspan dy="4.4">0</tspan><tspan dy="-4.4">=10 eV</tspan></text>
<text x="511.6" y="381.4" font-size="13.9" font-weight="bold" textLength="63.2" lengthAdjust="spacingAndGlyphs">E<tspan dy="4.4">0</tspan><tspan dy="-4.4">=2.3 eV</tspan></text>
<text transform="translate(28.2 332) rotate(-90)" font-size="20" font-weight="bold" textLength="183.6" lengthAdjust="spacingAndGlyphs">Intensity [arb. units]</text>
<text x="250.9" y="527.6" font-size="20" font-weight="bold" text-anchor="start" textLength="150.4" lengthAdjust="spacingAndGlyphs">Energy Loss [cm</text>
<text x="403.8" y="516.9" font-size="8" font-weight="bold" text-anchor="start" textLength="8.4" lengthAdjust="spacingAndGlyphs">-1</text>
<text x="412.6" y="527.6" font-size="20" font-weight="bold" text-anchor="start">]</text>
</svg>
</body></html>
